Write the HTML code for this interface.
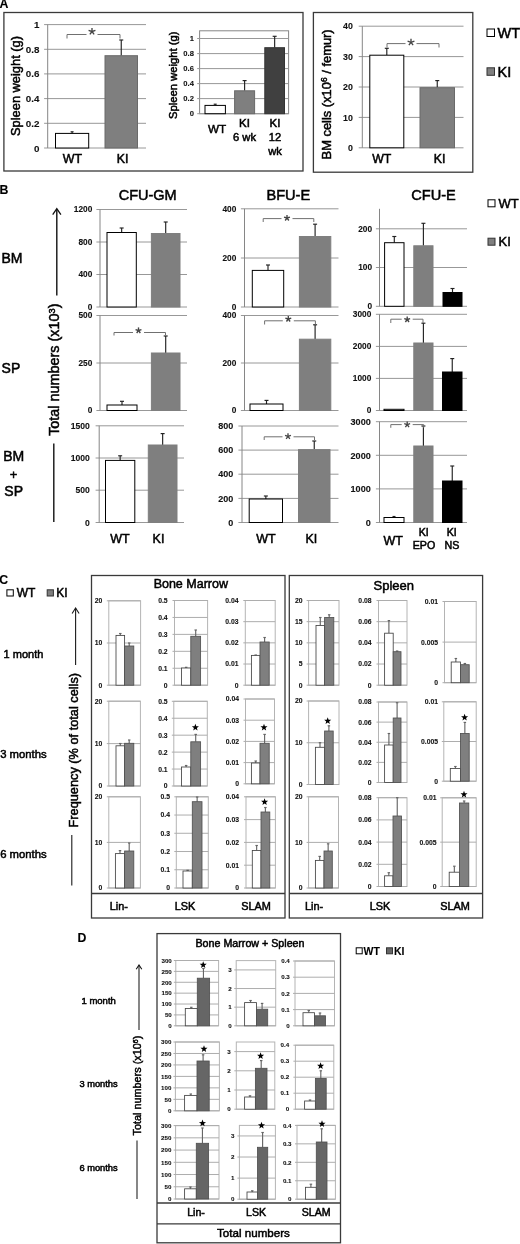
<!DOCTYPE html>
<html><head><meta charset="utf-8"><title>Figure</title>
<style>
html,body{margin:0;padding:0;background:#fff;}
body{width:520px;height:1244px;overflow:hidden;font-family:"Liberation Sans",sans-serif;}
svg{display:block;font-family:"Liberation Sans",sans-serif;filter:blur(0.55px);}
</style></head><body>
<svg width="520" height="1244" viewBox="0 0 520 1244">
<rect x="0" y="0" width="520" height="1244" fill="#fff"/>
<text x="-0.50" y="8.00" font-size="12.3" text-anchor="start" font-weight="bold" fill="#000" stroke="#000" stroke-width="0.1" >A</text>
<rect x="3.90" y="12.50" width="299.10" height="158.50" fill="none" stroke="#3a3a3a" stroke-width="1.3"/>
<rect x="313.40" y="12.50" width="159.40" height="159.70" fill="none" stroke="#3a3a3a" stroke-width="1.3"/>
<line x1="44.10" y1="24.60" x2="146.00" y2="24.60" stroke="#989898" stroke-width="1"/>
<line x1="44.10" y1="49.30" x2="146.00" y2="49.30" stroke="#989898" stroke-width="1"/>
<line x1="44.10" y1="73.90" x2="146.00" y2="73.90" stroke="#989898" stroke-width="1"/>
<line x1="44.10" y1="98.60" x2="146.00" y2="98.60" stroke="#989898" stroke-width="1"/>
<line x1="44.10" y1="123.30" x2="146.00" y2="123.30" stroke="#989898" stroke-width="1"/>
<line x1="44.10" y1="148.00" x2="146.00" y2="148.00" stroke="#989898" stroke-width="1"/>
<line x1="47.70" y1="24.60" x2="47.70" y2="148.00" stroke="#868686" stroke-width="1"/>
<text x="39.40" y="28.13" font-size="9.8" text-anchor="end" font-weight="bold" fill="#111" stroke="#111" stroke-width="0.1" >1</text>
<text x="39.40" y="52.83" font-size="9.8" text-anchor="end" font-weight="bold" fill="#111" stroke="#111" stroke-width="0.1" >0.8</text>
<text x="39.40" y="77.43" font-size="9.8" text-anchor="end" font-weight="bold" fill="#111" stroke="#111" stroke-width="0.1" >0.6</text>
<text x="39.40" y="102.13" font-size="9.8" text-anchor="end" font-weight="bold" fill="#111" stroke="#111" stroke-width="0.1" >0.4</text>
<text x="39.40" y="126.83" font-size="9.8" text-anchor="end" font-weight="bold" fill="#111" stroke="#111" stroke-width="0.1" >0.2</text>
<text x="39.40" y="151.53" font-size="9.8" text-anchor="end" font-weight="bold" fill="#111" stroke="#111" stroke-width="0.1" >0</text>
<line x1="72.10" y1="131.80" x2="72.10" y2="133.40" stroke="#222" stroke-width="1.15"/>
<line x1="70.60" y1="131.80" x2="73.60" y2="131.80" stroke="#222" stroke-width="1.15"/>
<rect x="55.50" y="133.40" width="33.20" height="14.60" fill="#fff" stroke="#000" stroke-width="1"/>
<line x1="121.25" y1="40.00" x2="121.25" y2="55.70" stroke="#222" stroke-width="1.15"/>
<line x1="119.25" y1="40.00" x2="123.25" y2="40.00" stroke="#222" stroke-width="1.15"/>
<rect x="105.00" y="55.70" width="32.50" height="92.30" fill="#7f7f7f" stroke="#6a6a6a" stroke-width="1"/>
<line x1="67.00" y1="34.50" x2="86.50" y2="34.50" stroke="#707070" stroke-width="1"/>
<line x1="97.50" y1="34.50" x2="120.00" y2="34.50" stroke="#707070" stroke-width="1"/>
<line x1="67.00" y1="34.50" x2="67.00" y2="38.50" stroke="#707070" stroke-width="1"/>
<line x1="120.00" y1="34.50" x2="120.00" y2="38.50" stroke="#707070" stroke-width="1"/>
<line x1="92.00" y1="31.50" x2="92.00" y2="27.90" stroke="#444" stroke-width="1.35"/>
<line x1="92.00" y1="31.50" x2="95.42" y2="30.39" stroke="#444" stroke-width="1.35"/>
<line x1="92.00" y1="31.50" x2="94.12" y2="34.41" stroke="#444" stroke-width="1.35"/>
<line x1="92.00" y1="31.50" x2="89.88" y2="34.41" stroke="#444" stroke-width="1.35"/>
<line x1="92.00" y1="31.50" x2="88.58" y2="30.39" stroke="#444" stroke-width="1.35"/>
<text transform="translate(20.00,86.00) rotate(-90)" font-size="12.85" text-anchor="middle" font-weight="normal" stroke="#000" stroke-width="0.5">Spleen weight (g)</text>
<text x="72.50" y="163.30" font-size="12.4" text-anchor="middle" font-weight="normal" fill="#000" stroke="#000" stroke-width="0.5" >WT</text>
<text x="122.50" y="163.30" font-size="12.4" text-anchor="middle" font-weight="normal" fill="#000" stroke="#000" stroke-width="0.5" >KI</text>
<rect x="199.60" y="30.80" width="89.00" height="82.90" fill="none" stroke="#868686" stroke-width="1"/>
<line x1="197.20" y1="38.50" x2="288.60" y2="38.50" stroke="#989898" stroke-width="1"/>
<line x1="197.20" y1="53.60" x2="288.60" y2="53.60" stroke="#989898" stroke-width="1"/>
<line x1="197.20" y1="68.60" x2="288.60" y2="68.60" stroke="#989898" stroke-width="1"/>
<line x1="197.20" y1="83.60" x2="288.60" y2="83.60" stroke="#989898" stroke-width="1"/>
<line x1="197.20" y1="98.60" x2="288.60" y2="98.60" stroke="#989898" stroke-width="1"/>
<line x1="197.20" y1="113.70" x2="288.60" y2="113.70" stroke="#989898" stroke-width="1"/>
<text x="193.90" y="41.24" font-size="7.6" text-anchor="end" font-weight="bold" fill="#111" stroke="#111" stroke-width="0.1" >1</text>
<text x="193.90" y="56.34" font-size="7.6" text-anchor="end" font-weight="bold" fill="#111" stroke="#111" stroke-width="0.1" >0.8</text>
<text x="193.90" y="71.34" font-size="7.6" text-anchor="end" font-weight="bold" fill="#111" stroke="#111" stroke-width="0.1" >0.6</text>
<text x="193.90" y="86.34" font-size="7.6" text-anchor="end" font-weight="bold" fill="#111" stroke="#111" stroke-width="0.1" >0.4</text>
<text x="193.90" y="101.34" font-size="7.6" text-anchor="end" font-weight="bold" fill="#111" stroke="#111" stroke-width="0.1" >0.2</text>
<text x="193.90" y="116.44" font-size="7.6" text-anchor="end" font-weight="bold" fill="#111" stroke="#111" stroke-width="0.1" >0</text>
<line x1="215.20" y1="104.20" x2="215.20" y2="105.40" stroke="#222" stroke-width="1.15"/>
<line x1="213.70" y1="104.20" x2="216.70" y2="104.20" stroke="#222" stroke-width="1.15"/>
<rect x="205.00" y="105.40" width="20.40" height="8.30" fill="#fff" stroke="#000" stroke-width="1"/>
<line x1="244.60" y1="80.60" x2="244.60" y2="90.80" stroke="#222" stroke-width="1.15"/>
<line x1="242.60" y1="80.60" x2="246.60" y2="80.60" stroke="#222" stroke-width="1.15"/>
<rect x="234.60" y="90.80" width="20.00" height="22.90" fill="#7f7f7f" stroke="#6a6a6a" stroke-width="1"/>
<line x1="274.65" y1="36.30" x2="274.65" y2="47.70" stroke="#222" stroke-width="1.15"/>
<line x1="272.65" y1="36.30" x2="276.65" y2="36.30" stroke="#222" stroke-width="1.15"/>
<rect x="264.80" y="47.70" width="19.70" height="66.00" fill="#404040" stroke="#333" stroke-width="1"/>
<text transform="translate(176.60,75.30) rotate(-90)" font-size="11.25" text-anchor="middle" font-weight="normal" stroke="#000" stroke-width="0.5">Spleen weight (g)</text>
<text x="217.00" y="133.00" font-size="11.7" text-anchor="middle" font-weight="normal" fill="#000" stroke="#000" stroke-width="0.5" >WT</text>
<text x="244.50" y="127.00" font-size="11.5" text-anchor="middle" font-weight="normal" fill="#000" stroke="#000" stroke-width="0.5" >KI</text>
<text x="244.50" y="141.40" font-size="11.2" text-anchor="middle" font-weight="normal" fill="#000" stroke="#000" stroke-width="0.5" >6 wk</text>
<text x="275.00" y="127.00" font-size="11.5" text-anchor="middle" font-weight="normal" fill="#000" stroke="#000" stroke-width="0.5" >KI</text>
<text x="275.00" y="141.40" font-size="11.2" text-anchor="middle" font-weight="normal" fill="#000" stroke="#000" stroke-width="0.5" >12</text>
<text x="275.00" y="155.20" font-size="11.2" text-anchor="middle" font-weight="normal" fill="#000" stroke="#000" stroke-width="0.5" >wk</text>
<line x1="358.70" y1="26.20" x2="463.50" y2="26.20" stroke="#989898" stroke-width="1"/>
<line x1="358.70" y1="56.60" x2="463.50" y2="56.60" stroke="#989898" stroke-width="1"/>
<line x1="358.70" y1="87.00" x2="463.50" y2="87.00" stroke="#989898" stroke-width="1"/>
<line x1="358.70" y1="117.40" x2="463.50" y2="117.40" stroke="#989898" stroke-width="1"/>
<line x1="358.70" y1="147.80" x2="463.50" y2="147.80" stroke="#989898" stroke-width="1"/>
<line x1="362.30" y1="26.20" x2="362.30" y2="147.80" stroke="#868686" stroke-width="1"/>
<text x="352.80" y="29.37" font-size="8.8" text-anchor="end" font-weight="bold" fill="#111" stroke="#111" stroke-width="0.1" >40</text>
<text x="352.80" y="59.77" font-size="8.8" text-anchor="end" font-weight="bold" fill="#111" stroke="#111" stroke-width="0.1" >30</text>
<text x="352.80" y="90.17" font-size="8.8" text-anchor="end" font-weight="bold" fill="#111" stroke="#111" stroke-width="0.1" >20</text>
<text x="352.80" y="120.57" font-size="8.8" text-anchor="end" font-weight="bold" fill="#111" stroke="#111" stroke-width="0.1" >10</text>
<text x="352.80" y="150.97" font-size="8.8" text-anchor="end" font-weight="bold" fill="#111" stroke="#111" stroke-width="0.1" >0</text>
<line x1="386.80" y1="48.30" x2="386.80" y2="55.20" stroke="#222" stroke-width="1.15"/>
<line x1="384.80" y1="48.30" x2="388.80" y2="48.30" stroke="#222" stroke-width="1.15"/>
<rect x="369.80" y="55.20" width="34.00" height="92.60" fill="#fff" stroke="#000" stroke-width="1"/>
<line x1="437.25" y1="80.60" x2="437.25" y2="87.70" stroke="#222" stroke-width="1.15"/>
<line x1="435.25" y1="80.60" x2="439.25" y2="80.60" stroke="#222" stroke-width="1.15"/>
<rect x="420.00" y="87.70" width="34.50" height="60.10" fill="#7f7f7f" stroke="#6a6a6a" stroke-width="1"/>
<line x1="387.00" y1="43.60" x2="405.50" y2="43.60" stroke="#707070" stroke-width="1"/>
<line x1="416.50" y1="43.60" x2="439.00" y2="43.60" stroke="#707070" stroke-width="1"/>
<line x1="387.00" y1="43.60" x2="387.00" y2="47.50" stroke="#707070" stroke-width="1"/>
<line x1="439.00" y1="43.60" x2="439.00" y2="47.50" stroke="#707070" stroke-width="1"/>
<line x1="411.00" y1="42.30" x2="411.00" y2="38.70" stroke="#444" stroke-width="1.35"/>
<line x1="411.00" y1="42.30" x2="414.42" y2="41.19" stroke="#444" stroke-width="1.35"/>
<line x1="411.00" y1="42.30" x2="413.12" y2="45.21" stroke="#444" stroke-width="1.35"/>
<line x1="411.00" y1="42.30" x2="408.88" y2="45.21" stroke="#444" stroke-width="1.35"/>
<line x1="411.00" y1="42.30" x2="407.58" y2="41.19" stroke="#444" stroke-width="1.35"/>
<text transform="translate(331.2,94.4) rotate(-90)" font-size="12.9" text-anchor="middle" stroke="#000" stroke-width="0.5">BM cells (x10<tspan font-size="8.5" dy="-4.3">6</tspan><tspan dy="4.3"> / femur)</tspan></text>
<text x="381.70" y="163.00" font-size="12.3" text-anchor="middle" font-weight="normal" fill="#000" stroke="#000" stroke-width="0.5" >WT</text>
<text x="439.50" y="163.00" font-size="12.3" text-anchor="middle" font-weight="normal" fill="#000" stroke="#000" stroke-width="0.5" >KI</text>
<rect x="487.00" y="29.00" width="7.50" height="7.50" fill="#fff" stroke="#000" stroke-width="1"/>
<text x="497.50" y="38.00" font-size="14.5" text-anchor="start" font-weight="normal" fill="#000" stroke="#000" stroke-width="0.5" >WT</text>
<rect x="487.00" y="67.80" width="7.50" height="7.50" fill="#7f7f7f" stroke="#333" stroke-width="1"/>
<text x="497.50" y="76.50" font-size="14.5" text-anchor="start" font-weight="normal" fill="#000" stroke="#000" stroke-width="0.5" >KI</text>
<text x="-0.50" y="193.70" font-size="12.3" text-anchor="start" font-weight="bold" fill="#000" stroke="#000" stroke-width="0.1" >B</text>
<text x="1.40" y="263.20" font-size="14" text-anchor="start" font-weight="normal" fill="#000" stroke="#000" stroke-width="0.5" >BM</text>
<text x="1.60" y="373.00" font-size="14" text-anchor="start" font-weight="normal" fill="#000" stroke="#000" stroke-width="0.5" >SP</text>
<text x="13.70" y="461.20" font-size="14" text-anchor="middle" font-weight="normal" fill="#000" stroke="#000" stroke-width="0.5" >BM</text>
<text x="13.60" y="478.60" font-size="13" text-anchor="middle" font-weight="normal" fill="#000" stroke="#000" stroke-width="0.5" >+</text>
<text x="13.70" y="496.20" font-size="14" text-anchor="middle" font-weight="normal" fill="#000" stroke="#000" stroke-width="0.5" >SP</text>
<line x1="56.80" y1="209.00" x2="56.80" y2="295.40" stroke="#111" stroke-width="1.4"/>
<path d="M52.7,214.6 L56.8,208.6 L60.9,214.6" fill="none" stroke="#111" stroke-width="1.3"/>
<text transform="translate(59.3,369.7) rotate(-90)" font-size="14.4" text-anchor="middle" stroke="#000" stroke-width="0.5">Total numbers (x10<tspan font-size="9.3" dy="-4.5">3</tspan><tspan dy="4.5">)</tspan></text>
<line x1="53.80" y1="443.50" x2="53.80" y2="522.00" stroke="#111" stroke-width="1.4"/>
<text x="147.70" y="200.20" font-size="14.5" text-anchor="middle" font-weight="normal" fill="#000" stroke="#000" stroke-width="0.5" >CFU-GM</text>
<text x="288.30" y="200.20" font-size="14.6" text-anchor="middle" font-weight="normal" fill="#000" stroke="#000" stroke-width="0.5" >BFU-E</text>
<text x="433.50" y="200.20" font-size="14.6" text-anchor="middle" font-weight="normal" fill="#000" stroke="#000" stroke-width="0.5" >CFU-E</text>
<line x1="96.40" y1="209.50" x2="187.00" y2="209.50" stroke="#989898" stroke-width="1"/>
<line x1="96.40" y1="242.00" x2="187.00" y2="242.00" stroke="#989898" stroke-width="1"/>
<line x1="96.40" y1="274.50" x2="187.00" y2="274.50" stroke="#989898" stroke-width="1"/>
<line x1="96.40" y1="307.00" x2="187.00" y2="307.00" stroke="#989898" stroke-width="1"/>
<line x1="100.00" y1="209.50" x2="100.00" y2="307.00" stroke="#868686" stroke-width="1"/>
<text x="92.30" y="212.49" font-size="8.3" text-anchor="end" font-weight="bold" fill="#111" stroke="#111" stroke-width="0.1" >1200</text>
<text x="92.30" y="244.99" font-size="8.3" text-anchor="end" font-weight="bold" fill="#111" stroke="#111" stroke-width="0.1" >800</text>
<text x="92.30" y="277.49" font-size="8.3" text-anchor="end" font-weight="bold" fill="#111" stroke="#111" stroke-width="0.1" >400</text>
<text x="92.30" y="309.99" font-size="8.3" text-anchor="end" font-weight="bold" fill="#111" stroke="#111" stroke-width="0.1" >0</text>
<line x1="121.65" y1="228.00" x2="121.65" y2="232.50" stroke="#222" stroke-width="1.15"/>
<line x1="119.65" y1="228.00" x2="123.65" y2="228.00" stroke="#222" stroke-width="1.15"/>
<rect x="107.00" y="232.50" width="29.30" height="74.50" fill="#fff" stroke="#000" stroke-width="1"/>
<line x1="165.70" y1="222.00" x2="165.70" y2="233.50" stroke="#222" stroke-width="1.15"/>
<line x1="163.70" y1="222.00" x2="167.70" y2="222.00" stroke="#222" stroke-width="1.15"/>
<rect x="151.40" y="233.50" width="28.60" height="73.50" fill="#7f7f7f" stroke="#7f7f7f" stroke-width="1"/>
<line x1="96.40" y1="315.50" x2="187.00" y2="315.50" stroke="#989898" stroke-width="1"/>
<line x1="96.40" y1="363.00" x2="187.00" y2="363.00" stroke="#989898" stroke-width="1"/>
<line x1="96.40" y1="410.50" x2="187.00" y2="410.50" stroke="#989898" stroke-width="1"/>
<line x1="100.00" y1="315.50" x2="100.00" y2="410.50" stroke="#868686" stroke-width="1"/>
<text x="92.30" y="318.49" font-size="8.3" text-anchor="end" font-weight="bold" fill="#111" stroke="#111" stroke-width="0.1" >500</text>
<text x="92.30" y="365.99" font-size="8.3" text-anchor="end" font-weight="bold" fill="#111" stroke="#111" stroke-width="0.1" >250</text>
<text x="92.30" y="413.49" font-size="8.3" text-anchor="end" font-weight="bold" fill="#111" stroke="#111" stroke-width="0.1" >0</text>
<line x1="122.00" y1="401.30" x2="122.00" y2="405.00" stroke="#222" stroke-width="1.15"/>
<line x1="120.00" y1="401.30" x2="124.00" y2="401.30" stroke="#222" stroke-width="1.15"/>
<rect x="107.00" y="405.00" width="30.00" height="5.50" fill="#fff" stroke="#000" stroke-width="1"/>
<line x1="165.70" y1="336.00" x2="165.70" y2="353.00" stroke="#222" stroke-width="1.15"/>
<line x1="163.70" y1="336.00" x2="167.70" y2="336.00" stroke="#222" stroke-width="1.15"/>
<rect x="151.40" y="353.00" width="28.60" height="57.50" fill="#7f7f7f" stroke="#7f7f7f" stroke-width="1"/>
<line x1="114.00" y1="332.50" x2="133.00" y2="332.50" stroke="#707070" stroke-width="1"/>
<line x1="144.00" y1="332.50" x2="165.50" y2="332.50" stroke="#707070" stroke-width="1"/>
<line x1="114.00" y1="332.50" x2="114.00" y2="335.50" stroke="#707070" stroke-width="1"/>
<line x1="165.50" y1="332.50" x2="165.50" y2="335.50" stroke="#707070" stroke-width="1"/>
<line x1="138.50" y1="330.50" x2="138.50" y2="327.40" stroke="#444" stroke-width="1.35"/>
<line x1="138.50" y1="330.50" x2="141.45" y2="329.54" stroke="#444" stroke-width="1.35"/>
<line x1="138.50" y1="330.50" x2="140.32" y2="333.01" stroke="#444" stroke-width="1.35"/>
<line x1="138.50" y1="330.50" x2="136.68" y2="333.01" stroke="#444" stroke-width="1.35"/>
<line x1="138.50" y1="330.50" x2="135.55" y2="329.54" stroke="#444" stroke-width="1.35"/>
<line x1="95.60" y1="425.80" x2="184.00" y2="425.80" stroke="#989898" stroke-width="1"/>
<line x1="95.60" y1="458.00" x2="184.00" y2="458.00" stroke="#989898" stroke-width="1"/>
<line x1="95.60" y1="490.20" x2="184.00" y2="490.20" stroke="#989898" stroke-width="1"/>
<line x1="95.60" y1="522.50" x2="184.00" y2="522.50" stroke="#989898" stroke-width="1"/>
<line x1="99.20" y1="425.80" x2="99.20" y2="522.50" stroke="#868686" stroke-width="1"/>
<text x="89.80" y="428.90" font-size="8.6" text-anchor="end" font-weight="bold" fill="#111" stroke="#111" stroke-width="0.1" >1500</text>
<text x="89.80" y="461.10" font-size="8.6" text-anchor="end" font-weight="bold" fill="#111" stroke="#111" stroke-width="0.1" >1000</text>
<text x="89.80" y="493.30" font-size="8.6" text-anchor="end" font-weight="bold" fill="#111" stroke="#111" stroke-width="0.1" >500</text>
<text x="89.80" y="525.60" font-size="8.6" text-anchor="end" font-weight="bold" fill="#111" stroke="#111" stroke-width="0.1" >0</text>
<line x1="120.15" y1="455.80" x2="120.15" y2="460.40" stroke="#222" stroke-width="1.15"/>
<line x1="118.15" y1="455.80" x2="122.15" y2="455.80" stroke="#222" stroke-width="1.15"/>
<rect x="105.50" y="460.40" width="29.30" height="62.10" fill="#fff" stroke="#000" stroke-width="1"/>
<line x1="162.65" y1="433.60" x2="162.65" y2="445.00" stroke="#222" stroke-width="1.15"/>
<line x1="160.65" y1="433.60" x2="164.65" y2="433.60" stroke="#222" stroke-width="1.15"/>
<rect x="148.30" y="445.00" width="28.70" height="77.50" fill="#7f7f7f" stroke="#7f7f7f" stroke-width="1"/>
<text x="120.00" y="542.50" font-size="12.5" text-anchor="middle" font-weight="normal" fill="#000" stroke="#000" stroke-width="0.5" >WT</text>
<text x="158.50" y="542.50" font-size="12.5" text-anchor="middle" font-weight="normal" fill="#000" stroke="#000" stroke-width="0.5" >KI</text>
<line x1="240.90" y1="208.80" x2="338.50" y2="208.80" stroke="#989898" stroke-width="1"/>
<line x1="240.90" y1="258.00" x2="338.50" y2="258.00" stroke="#989898" stroke-width="1"/>
<line x1="240.90" y1="307.00" x2="338.50" y2="307.00" stroke="#989898" stroke-width="1"/>
<line x1="244.50" y1="208.80" x2="244.50" y2="307.00" stroke="#868686" stroke-width="1"/>
<text x="236.30" y="211.79" font-size="8.3" text-anchor="end" font-weight="bold" fill="#111" stroke="#111" stroke-width="0.1" >400</text>
<text x="236.30" y="260.99" font-size="8.3" text-anchor="end" font-weight="bold" fill="#111" stroke="#111" stroke-width="0.1" >200</text>
<text x="236.30" y="309.99" font-size="8.3" text-anchor="end" font-weight="bold" fill="#111" stroke="#111" stroke-width="0.1" >0</text>
<line x1="268.00" y1="265.00" x2="268.00" y2="270.40" stroke="#222" stroke-width="1.15"/>
<line x1="266.00" y1="265.00" x2="270.00" y2="265.00" stroke="#222" stroke-width="1.15"/>
<rect x="252.30" y="270.40" width="31.40" height="36.60" fill="#fff" stroke="#000" stroke-width="1"/>
<line x1="315.10" y1="224.20" x2="315.10" y2="236.50" stroke="#222" stroke-width="1.15"/>
<line x1="313.10" y1="224.20" x2="317.10" y2="224.20" stroke="#222" stroke-width="1.15"/>
<rect x="299.40" y="236.50" width="31.40" height="70.50" fill="#7f7f7f" stroke="#7f7f7f" stroke-width="1"/>
<line x1="263.20" y1="218.60" x2="281.50" y2="218.60" stroke="#707070" stroke-width="1"/>
<line x1="292.50" y1="218.60" x2="313.80" y2="218.60" stroke="#707070" stroke-width="1"/>
<line x1="263.20" y1="218.60" x2="263.20" y2="222.00" stroke="#707070" stroke-width="1"/>
<line x1="313.80" y1="218.60" x2="313.80" y2="222.00" stroke="#707070" stroke-width="1"/>
<line x1="287.00" y1="218.00" x2="287.00" y2="214.90" stroke="#444" stroke-width="1.35"/>
<line x1="287.00" y1="218.00" x2="289.95" y2="217.04" stroke="#444" stroke-width="1.35"/>
<line x1="287.00" y1="218.00" x2="288.82" y2="220.51" stroke="#444" stroke-width="1.35"/>
<line x1="287.00" y1="218.00" x2="285.18" y2="220.51" stroke="#444" stroke-width="1.35"/>
<line x1="287.00" y1="218.00" x2="284.05" y2="217.04" stroke="#444" stroke-width="1.35"/>
<line x1="240.90" y1="315.50" x2="338.50" y2="315.50" stroke="#989898" stroke-width="1"/>
<line x1="240.90" y1="363.00" x2="338.50" y2="363.00" stroke="#989898" stroke-width="1"/>
<line x1="240.90" y1="410.50" x2="338.50" y2="410.50" stroke="#989898" stroke-width="1"/>
<line x1="244.50" y1="315.50" x2="244.50" y2="410.50" stroke="#868686" stroke-width="1"/>
<text x="236.30" y="318.49" font-size="8.3" text-anchor="end" font-weight="bold" fill="#111" stroke="#111" stroke-width="0.1" >400</text>
<text x="236.30" y="365.99" font-size="8.3" text-anchor="end" font-weight="bold" fill="#111" stroke="#111" stroke-width="0.1" >200</text>
<text x="236.30" y="413.49" font-size="8.3" text-anchor="end" font-weight="bold" fill="#111" stroke="#111" stroke-width="0.1" >0</text>
<line x1="266.50" y1="400.40" x2="266.50" y2="404.00" stroke="#222" stroke-width="1.15"/>
<line x1="264.50" y1="400.40" x2="268.50" y2="400.40" stroke="#222" stroke-width="1.15"/>
<rect x="250.00" y="404.00" width="33.00" height="6.50" fill="#fff" stroke="#000" stroke-width="1"/>
<line x1="315.10" y1="324.80" x2="315.10" y2="339.20" stroke="#222" stroke-width="1.15"/>
<line x1="313.10" y1="324.80" x2="317.10" y2="324.80" stroke="#222" stroke-width="1.15"/>
<rect x="299.40" y="339.20" width="31.40" height="71.30" fill="#7f7f7f" stroke="#7f7f7f" stroke-width="1"/>
<line x1="264.60" y1="320.80" x2="282.80" y2="320.80" stroke="#707070" stroke-width="1"/>
<line x1="293.80" y1="320.80" x2="315.40" y2="320.80" stroke="#707070" stroke-width="1"/>
<line x1="264.60" y1="320.80" x2="264.60" y2="324.50" stroke="#707070" stroke-width="1"/>
<line x1="315.40" y1="320.80" x2="315.40" y2="324.50" stroke="#707070" stroke-width="1"/>
<line x1="288.30" y1="319.00" x2="288.30" y2="315.90" stroke="#444" stroke-width="1.35"/>
<line x1="288.30" y1="319.00" x2="291.25" y2="318.04" stroke="#444" stroke-width="1.35"/>
<line x1="288.30" y1="319.00" x2="290.12" y2="321.51" stroke="#444" stroke-width="1.35"/>
<line x1="288.30" y1="319.00" x2="286.48" y2="321.51" stroke="#444" stroke-width="1.35"/>
<line x1="288.30" y1="319.00" x2="285.35" y2="318.04" stroke="#444" stroke-width="1.35"/>
<line x1="238.40" y1="426.00" x2="338.50" y2="426.00" stroke="#989898" stroke-width="1"/>
<line x1="238.40" y1="450.10" x2="338.50" y2="450.10" stroke="#989898" stroke-width="1"/>
<line x1="238.40" y1="474.20" x2="338.50" y2="474.20" stroke="#989898" stroke-width="1"/>
<line x1="238.40" y1="498.40" x2="338.50" y2="498.40" stroke="#989898" stroke-width="1"/>
<line x1="238.40" y1="522.50" x2="338.50" y2="522.50" stroke="#989898" stroke-width="1"/>
<line x1="242.00" y1="426.00" x2="242.00" y2="522.50" stroke="#868686" stroke-width="1"/>
<text x="233.20" y="429.24" font-size="9" text-anchor="end" font-weight="bold" fill="#111" stroke="#111" stroke-width="0.1" >800</text>
<text x="233.20" y="453.34" font-size="9" text-anchor="end" font-weight="bold" fill="#111" stroke="#111" stroke-width="0.1" >600</text>
<text x="233.20" y="477.44" font-size="9" text-anchor="end" font-weight="bold" fill="#111" stroke="#111" stroke-width="0.1" >400</text>
<text x="233.20" y="501.64" font-size="9" text-anchor="end" font-weight="bold" fill="#111" stroke="#111" stroke-width="0.1" >200</text>
<text x="233.20" y="525.74" font-size="9" text-anchor="end" font-weight="bold" fill="#111" stroke="#111" stroke-width="0.1" >0</text>
<line x1="265.85" y1="496.00" x2="265.85" y2="499.00" stroke="#222" stroke-width="1.15"/>
<line x1="263.85" y1="496.00" x2="267.85" y2="496.00" stroke="#222" stroke-width="1.15"/>
<rect x="249.20" y="499.00" width="33.30" height="23.50" fill="#fff" stroke="#000" stroke-width="1"/>
<line x1="314.25" y1="441.00" x2="314.25" y2="449.60" stroke="#222" stroke-width="1.15"/>
<line x1="312.25" y1="441.00" x2="316.25" y2="441.00" stroke="#222" stroke-width="1.15"/>
<rect x="298.50" y="449.60" width="31.50" height="72.90" fill="#7f7f7f" stroke="#7f7f7f" stroke-width="1"/>
<line x1="264.20" y1="436.80" x2="282.50" y2="436.80" stroke="#707070" stroke-width="1"/>
<line x1="293.50" y1="436.80" x2="314.50" y2="436.80" stroke="#707070" stroke-width="1"/>
<line x1="264.20" y1="436.80" x2="264.20" y2="440.00" stroke="#707070" stroke-width="1"/>
<line x1="314.50" y1="436.80" x2="314.50" y2="440.00" stroke="#707070" stroke-width="1"/>
<line x1="288.00" y1="436.30" x2="288.00" y2="433.20" stroke="#444" stroke-width="1.35"/>
<line x1="288.00" y1="436.30" x2="290.95" y2="435.34" stroke="#444" stroke-width="1.35"/>
<line x1="288.00" y1="436.30" x2="289.82" y2="438.81" stroke="#444" stroke-width="1.35"/>
<line x1="288.00" y1="436.30" x2="286.18" y2="438.81" stroke="#444" stroke-width="1.35"/>
<line x1="288.00" y1="436.30" x2="285.05" y2="435.34" stroke="#444" stroke-width="1.35"/>
<text x="266.00" y="542.50" font-size="12.5" text-anchor="middle" font-weight="normal" fill="#000" stroke="#000" stroke-width="0.5" >WT</text>
<text x="311.40" y="542.50" font-size="12.5" text-anchor="middle" font-weight="normal" fill="#000" stroke="#000" stroke-width="0.5" >KI</text>
<line x1="375.90" y1="228.80" x2="467.00" y2="228.80" stroke="#989898" stroke-width="1"/>
<line x1="375.90" y1="267.50" x2="467.00" y2="267.50" stroke="#989898" stroke-width="1"/>
<line x1="375.90" y1="306.30" x2="467.00" y2="306.30" stroke="#989898" stroke-width="1"/>
<line x1="379.50" y1="208.80" x2="379.50" y2="306.30" stroke="#868686" stroke-width="1"/>
<text x="372.00" y="231.79" font-size="8.3" text-anchor="end" font-weight="bold" fill="#111" stroke="#111" stroke-width="0.1" >200</text>
<text x="372.00" y="270.49" font-size="8.3" text-anchor="end" font-weight="bold" fill="#111" stroke="#111" stroke-width="0.1" >100</text>
<text x="372.00" y="309.29" font-size="8.3" text-anchor="end" font-weight="bold" fill="#111" stroke="#111" stroke-width="0.1" >0</text>
<line x1="394.30" y1="236.50" x2="394.30" y2="242.70" stroke="#222" stroke-width="1.15"/>
<line x1="392.30" y1="236.50" x2="396.30" y2="236.50" stroke="#222" stroke-width="1.15"/>
<rect x="384.60" y="242.70" width="19.40" height="63.60" fill="#fff" stroke="#000" stroke-width="1"/>
<line x1="423.40" y1="223.30" x2="423.40" y2="245.80" stroke="#222" stroke-width="1.15"/>
<line x1="421.40" y1="223.30" x2="425.40" y2="223.30" stroke="#222" stroke-width="1.15"/>
<rect x="413.80" y="245.80" width="19.20" height="60.50" fill="#7f7f7f" stroke="#7f7f7f" stroke-width="1"/>
<line x1="452.50" y1="288.50" x2="452.50" y2="292.50" stroke="#222" stroke-width="1.15"/>
<line x1="450.50" y1="288.50" x2="454.50" y2="288.50" stroke="#222" stroke-width="1.15"/>
<rect x="443.00" y="292.50" width="19.00" height="13.80" fill="#000" stroke="#000" stroke-width="1"/>
<line x1="375.90" y1="314.30" x2="467.00" y2="314.30" stroke="#989898" stroke-width="1"/>
<line x1="375.90" y1="346.40" x2="467.00" y2="346.40" stroke="#989898" stroke-width="1"/>
<line x1="375.90" y1="378.40" x2="467.00" y2="378.40" stroke="#989898" stroke-width="1"/>
<line x1="375.90" y1="410.50" x2="467.00" y2="410.50" stroke="#989898" stroke-width="1"/>
<line x1="379.50" y1="314.30" x2="379.50" y2="410.50" stroke="#868686" stroke-width="1"/>
<text x="371.30" y="317.29" font-size="8.3" text-anchor="end" font-weight="bold" fill="#111" stroke="#111" stroke-width="0.1" >3000</text>
<text x="371.30" y="349.39" font-size="8.3" text-anchor="end" font-weight="bold" fill="#111" stroke="#111" stroke-width="0.1" >2000</text>
<text x="371.30" y="381.39" font-size="8.3" text-anchor="end" font-weight="bold" fill="#111" stroke="#111" stroke-width="0.1" >1000</text>
<text x="371.30" y="413.49" font-size="8.3" text-anchor="end" font-weight="bold" fill="#111" stroke="#111" stroke-width="0.1" >0</text>
<rect x="384.00" y="409.30" width="20.00" height="1.20" fill="#fff" stroke="#000" stroke-width="1"/>
<line x1="423.40" y1="323.20" x2="423.40" y2="343.00" stroke="#222" stroke-width="1.15"/>
<line x1="421.40" y1="323.20" x2="425.40" y2="323.20" stroke="#222" stroke-width="1.15"/>
<rect x="413.80" y="343.00" width="19.20" height="67.50" fill="#7f7f7f" stroke="#7f7f7f" stroke-width="1"/>
<line x1="452.25" y1="358.60" x2="452.25" y2="372.00" stroke="#222" stroke-width="1.15"/>
<line x1="450.25" y1="358.60" x2="454.25" y2="358.60" stroke="#222" stroke-width="1.15"/>
<rect x="442.50" y="372.00" width="19.50" height="38.50" fill="#000" stroke="#000" stroke-width="1"/>
<line x1="390.80" y1="319.20" x2="401.70" y2="319.20" stroke="#707070" stroke-width="1"/>
<line x1="412.70" y1="319.20" x2="423.00" y2="319.20" stroke="#707070" stroke-width="1"/>
<line x1="390.80" y1="319.20" x2="390.80" y2="323.00" stroke="#707070" stroke-width="1"/>
<line x1="423.00" y1="319.20" x2="423.00" y2="323.00" stroke="#707070" stroke-width="1"/>
<line x1="407.20" y1="319.50" x2="407.20" y2="316.40" stroke="#444" stroke-width="1.35"/>
<line x1="407.20" y1="319.50" x2="410.15" y2="318.54" stroke="#444" stroke-width="1.35"/>
<line x1="407.20" y1="319.50" x2="409.02" y2="322.01" stroke="#444" stroke-width="1.35"/>
<line x1="407.20" y1="319.50" x2="405.38" y2="322.01" stroke="#444" stroke-width="1.35"/>
<line x1="407.20" y1="319.50" x2="404.25" y2="318.54" stroke="#444" stroke-width="1.35"/>
<line x1="375.90" y1="421.70" x2="467.00" y2="421.70" stroke="#989898" stroke-width="1"/>
<line x1="375.90" y1="455.30" x2="467.00" y2="455.30" stroke="#989898" stroke-width="1"/>
<line x1="375.90" y1="488.90" x2="467.00" y2="488.90" stroke="#989898" stroke-width="1"/>
<line x1="375.90" y1="522.50" x2="467.00" y2="522.50" stroke="#989898" stroke-width="1"/>
<line x1="379.50" y1="421.70" x2="379.50" y2="522.50" stroke="#868686" stroke-width="1"/>
<text x="370.80" y="424.98" font-size="9.1" text-anchor="end" font-weight="bold" fill="#111" stroke="#111" stroke-width="0.1" >3000</text>
<text x="370.80" y="458.58" font-size="9.1" text-anchor="end" font-weight="bold" fill="#111" stroke="#111" stroke-width="0.1" >2000</text>
<text x="370.80" y="492.18" font-size="9.1" text-anchor="end" font-weight="bold" fill="#111" stroke="#111" stroke-width="0.1" >1000</text>
<text x="370.80" y="525.78" font-size="9.1" text-anchor="end" font-weight="bold" fill="#111" stroke="#111" stroke-width="0.1" >0</text>
<line x1="394.00" y1="516.50" x2="394.00" y2="517.50" stroke="#222" stroke-width="1.15"/>
<line x1="392.50" y1="516.50" x2="395.50" y2="516.50" stroke="#222" stroke-width="1.15"/>
<rect x="384.00" y="517.50" width="20.00" height="5.00" fill="#fff" stroke="#000" stroke-width="1"/>
<line x1="423.40" y1="426.00" x2="423.40" y2="446.00" stroke="#222" stroke-width="1.15"/>
<line x1="421.40" y1="426.00" x2="425.40" y2="426.00" stroke="#222" stroke-width="1.15"/>
<rect x="413.80" y="446.00" width="19.20" height="76.50" fill="#7f7f7f" stroke="#7f7f7f" stroke-width="1"/>
<line x1="452.25" y1="466.00" x2="452.25" y2="481.00" stroke="#222" stroke-width="1.15"/>
<line x1="450.25" y1="466.00" x2="454.25" y2="466.00" stroke="#222" stroke-width="1.15"/>
<rect x="442.50" y="481.00" width="19.50" height="41.50" fill="#000" stroke="#000" stroke-width="1"/>
<line x1="390.80" y1="424.60" x2="401.70" y2="424.60" stroke="#707070" stroke-width="1"/>
<line x1="412.70" y1="424.60" x2="423.70" y2="424.60" stroke="#707070" stroke-width="1"/>
<line x1="390.80" y1="424.60" x2="390.80" y2="427.80" stroke="#707070" stroke-width="1"/>
<line x1="423.70" y1="424.60" x2="423.70" y2="427.80" stroke="#707070" stroke-width="1"/>
<line x1="407.20" y1="424.60" x2="407.20" y2="421.50" stroke="#444" stroke-width="1.35"/>
<line x1="407.20" y1="424.60" x2="410.15" y2="423.64" stroke="#444" stroke-width="1.35"/>
<line x1="407.20" y1="424.60" x2="409.02" y2="427.11" stroke="#444" stroke-width="1.35"/>
<line x1="407.20" y1="424.60" x2="405.38" y2="427.11" stroke="#444" stroke-width="1.35"/>
<line x1="407.20" y1="424.60" x2="404.25" y2="423.64" stroke="#444" stroke-width="1.35"/>
<text x="393.20" y="544.60" font-size="12.5" text-anchor="middle" font-weight="normal" fill="#000" stroke="#000" stroke-width="0.5" >WT</text>
<text x="423.70" y="535.60" font-size="10.7" text-anchor="middle" font-weight="normal" fill="#000" stroke="#000" stroke-width="0.5" >KI</text>
<text x="424.00" y="548.80" font-size="10.7" text-anchor="middle" font-weight="normal" fill="#000" stroke="#000" stroke-width="0.5" >EPO</text>
<text x="451.80" y="535.60" font-size="10.7" text-anchor="middle" font-weight="normal" fill="#000" stroke="#000" stroke-width="0.5" >KI</text>
<text x="452.00" y="548.80" font-size="10.7" text-anchor="middle" font-weight="normal" fill="#000" stroke="#000" stroke-width="0.5" >NS</text>
<rect x="488.00" y="199.80" width="7.00" height="7.00" fill="#fff" stroke="#000" stroke-width="1"/>
<text x="498.50" y="207.50" font-size="13" text-anchor="start" font-weight="normal" fill="#000" stroke="#000" stroke-width="0.5" >WT</text>
<rect x="488.00" y="238.20" width="7.00" height="7.00" fill="#7f7f7f" stroke="#333" stroke-width="1"/>
<text x="498.50" y="246.00" font-size="13" text-anchor="start" font-weight="normal" fill="#000" stroke="#000" stroke-width="0.5" >KI</text>
<text x="-0.80" y="584.20" font-size="12.3" text-anchor="start" font-weight="bold" fill="#000" stroke="#000" stroke-width="0.1" >C</text>
<rect x="6.90" y="589.80" width="6.40" height="6.20" fill="#fff" stroke="#000" stroke-width="1"/>
<text x="16.70" y="597.00" font-size="12" text-anchor="start" font-weight="normal" fill="#000" stroke="#000" stroke-width="0.5" >WT</text>
<rect x="47.20" y="589.80" width="6.20" height="6.20" fill="#7f7f7f" stroke="#333" stroke-width="1"/>
<text x="56.30" y="597.00" font-size="12" text-anchor="start" font-weight="normal" fill="#000" stroke="#000" stroke-width="0.5" >KI</text>
<text x="3.60" y="657.80" font-size="11" text-anchor="start" font-weight="normal" fill="#000" stroke="#000" stroke-width="0.5" >1 month</text>
<text x="0.20" y="757.90" font-size="11.3" text-anchor="start" font-weight="normal" fill="#000" stroke="#000" stroke-width="0.5" >3 months</text>
<text x="0.20" y="857.60" font-size="11.3" text-anchor="start" font-weight="normal" fill="#000" stroke="#000" stroke-width="0.5" >6 months</text>
<line x1="75.60" y1="608.30" x2="75.60" y2="665.00" stroke="#1a1a1a" stroke-width="1.1"/>
<path d="M72.1,613.5 L75.6,608 L79.1,613.5" fill="none" stroke="#1a1a1a" stroke-width="1.1"/>
<text transform="translate(77.60,750.20) rotate(-90)" font-size="12.75" text-anchor="middle" font-weight="normal" stroke="#000" stroke-width="0.5">Frequency (% of total cells)</text>
<line x1="71.80" y1="835.00" x2="71.80" y2="885.40" stroke="#1a1a1a" stroke-width="1.1"/>
<rect x="91.50" y="575.50" width="193.50" height="342.50" fill="none" stroke="#3a3a3a" stroke-width="1.3"/>
<line x1="91.50" y1="893.50" x2="285.00" y2="893.50" stroke="#3a3a3a" stroke-width="1.3"/>
<rect x="289.30" y="575.50" width="193.30" height="342.50" fill="none" stroke="#3a3a3a" stroke-width="1.3"/>
<line x1="289.30" y1="893.50" x2="482.60" y2="893.50" stroke="#3a3a3a" stroke-width="1.3"/>
<text x="190.80" y="588.30" font-size="12.5" text-anchor="middle" font-weight="normal" fill="#000" stroke="#000" stroke-width="0.5" >Bone Marrow</text>
<text x="393.80" y="589.50" font-size="13" text-anchor="middle" font-weight="normal" fill="#000" stroke="#000" stroke-width="0.5" >Spleen</text>
<text x="118.80" y="909.60" font-size="10.9" text-anchor="middle" font-weight="normal" fill="#000" stroke="#000" stroke-width="0.5" >Lin-</text>
<text x="185.00" y="909.60" font-size="10.9" text-anchor="middle" font-weight="normal" fill="#000" stroke="#000" stroke-width="0.5" >LSK</text>
<text x="256.00" y="909.60" font-size="10.9" text-anchor="middle" font-weight="normal" fill="#000" stroke="#000" stroke-width="0.5" >SLAM</text>
<text x="314.00" y="909.60" font-size="10.9" text-anchor="middle" font-weight="normal" fill="#000" stroke="#000" stroke-width="0.5" >Lin-</text>
<text x="380.00" y="909.60" font-size="10.9" text-anchor="middle" font-weight="normal" fill="#000" stroke="#000" stroke-width="0.5" >LSK</text>
<text x="455.00" y="909.60" font-size="10.9" text-anchor="middle" font-weight="normal" fill="#000" stroke="#000" stroke-width="0.5" >SLAM</text>
<rect x="108.80" y="600.80" width="31.80" height="84.40" fill="#fff" stroke="#b4b4b4" stroke-width="1"/>
<line x1="106.80" y1="600.80" x2="140.60" y2="600.80" stroke="#adadad" stroke-width="1"/>
<line x1="106.80" y1="643.00" x2="140.60" y2="643.00" stroke="#adadad" stroke-width="1"/>
<line x1="106.80" y1="685.20" x2="140.60" y2="685.20" stroke="#adadad" stroke-width="1"/>
<text x="102.40" y="603.25" font-size="6.8" text-anchor="end" font-weight="bold" fill="#111" stroke="#111" stroke-width="0.1" >20</text>
<text x="102.40" y="645.45" font-size="6.8" text-anchor="end" font-weight="bold" fill="#111" stroke="#111" stroke-width="0.1" >10</text>
<text x="102.40" y="687.65" font-size="6.8" text-anchor="end" font-weight="bold" fill="#111" stroke="#111" stroke-width="0.1" >0</text>
<line x1="120.30" y1="633.50" x2="120.30" y2="635.40" stroke="#666" stroke-width="1.15"/>
<line x1="119.05" y1="633.50" x2="121.55" y2="633.50" stroke="#666" stroke-width="1.15"/>
<rect x="116.00" y="635.40" width="8.60" height="49.80" fill="#fff" stroke="#444" stroke-width="0.85"/>
<line x1="129.20" y1="643.00" x2="129.20" y2="646.00" stroke="#666" stroke-width="1.15"/>
<line x1="127.95" y1="643.00" x2="130.45" y2="643.00" stroke="#666" stroke-width="1.15"/>
<rect x="124.60" y="646.00" width="9.20" height="39.20" fill="#7f7f7f" stroke="#505050" stroke-width="0.85"/>
<rect x="174.50" y="600.50" width="33.10" height="84.70" fill="#fff" stroke="#b4b4b4" stroke-width="1"/>
<line x1="172.50" y1="600.50" x2="207.60" y2="600.50" stroke="#adadad" stroke-width="1"/>
<line x1="172.50" y1="617.44" x2="207.60" y2="617.44" stroke="#adadad" stroke-width="1"/>
<line x1="172.50" y1="634.38" x2="207.60" y2="634.38" stroke="#adadad" stroke-width="1"/>
<line x1="172.50" y1="651.32" x2="207.60" y2="651.32" stroke="#adadad" stroke-width="1"/>
<line x1="172.50" y1="668.26" x2="207.60" y2="668.26" stroke="#adadad" stroke-width="1"/>
<line x1="172.50" y1="685.20" x2="207.60" y2="685.20" stroke="#adadad" stroke-width="1"/>
<text x="167.60" y="602.95" font-size="6.8" text-anchor="end" font-weight="bold" fill="#111" stroke="#111" stroke-width="0.1" >0.5</text>
<text x="167.60" y="619.89" font-size="6.8" text-anchor="end" font-weight="bold" fill="#111" stroke="#111" stroke-width="0.1" >0.4</text>
<text x="167.60" y="636.83" font-size="6.8" text-anchor="end" font-weight="bold" fill="#111" stroke="#111" stroke-width="0.1" >0.3</text>
<text x="167.60" y="653.77" font-size="6.8" text-anchor="end" font-weight="bold" fill="#111" stroke="#111" stroke-width="0.1" >0.2</text>
<text x="167.60" y="670.71" font-size="6.8" text-anchor="end" font-weight="bold" fill="#111" stroke="#111" stroke-width="0.1" >0.1</text>
<text x="167.60" y="687.65" font-size="6.8" text-anchor="end" font-weight="bold" fill="#111" stroke="#111" stroke-width="0.1" >0</text>
<line x1="186.15" y1="667.30" x2="186.15" y2="668.00" stroke="#666" stroke-width="1.15"/>
<line x1="184.90" y1="667.30" x2="187.40" y2="667.30" stroke="#666" stroke-width="1.15"/>
<rect x="181.50" y="668.00" width="9.30" height="17.20" fill="#fff" stroke="#444" stroke-width="0.85"/>
<line x1="195.70" y1="630.00" x2="195.70" y2="636.30" stroke="#666" stroke-width="1.15"/>
<line x1="194.45" y1="630.00" x2="196.95" y2="630.00" stroke="#666" stroke-width="1.15"/>
<rect x="190.80" y="636.30" width="9.80" height="48.90" fill="#7f7f7f" stroke="#505050" stroke-width="0.85"/>
<rect x="245.30" y="600.50" width="29.90" height="84.70" fill="#fff" stroke="#b4b4b4" stroke-width="1"/>
<line x1="243.30" y1="600.50" x2="275.20" y2="600.50" stroke="#adadad" stroke-width="1"/>
<line x1="243.30" y1="621.67" x2="275.20" y2="621.67" stroke="#adadad" stroke-width="1"/>
<line x1="243.30" y1="642.85" x2="275.20" y2="642.85" stroke="#adadad" stroke-width="1"/>
<line x1="243.30" y1="664.03" x2="275.20" y2="664.03" stroke="#adadad" stroke-width="1"/>
<line x1="243.30" y1="685.20" x2="275.20" y2="685.20" stroke="#adadad" stroke-width="1"/>
<text x="238.50" y="602.95" font-size="6.8" text-anchor="end" font-weight="bold" fill="#111" stroke="#111" stroke-width="0.1" >0.04</text>
<text x="238.50" y="624.12" font-size="6.8" text-anchor="end" font-weight="bold" fill="#111" stroke="#111" stroke-width="0.1" >0.03</text>
<text x="238.50" y="645.30" font-size="6.8" text-anchor="end" font-weight="bold" fill="#111" stroke="#111" stroke-width="0.1" >0.02</text>
<text x="238.50" y="666.47" font-size="6.8" text-anchor="end" font-weight="bold" fill="#111" stroke="#111" stroke-width="0.1" >0.01</text>
<text x="238.50" y="687.65" font-size="6.8" text-anchor="end" font-weight="bold" fill="#111" stroke="#111" stroke-width="0.1" >0</text>
<line x1="255.70" y1="655.00" x2="255.70" y2="655.40" stroke="#666" stroke-width="1.15"/>
<line x1="254.45" y1="655.00" x2="256.95" y2="655.00" stroke="#666" stroke-width="1.15"/>
<rect x="251.40" y="655.40" width="8.60" height="29.80" fill="#fff" stroke="#444" stroke-width="0.85"/>
<line x1="264.60" y1="637.50" x2="264.60" y2="642.00" stroke="#666" stroke-width="1.15"/>
<line x1="263.35" y1="637.50" x2="265.85" y2="637.50" stroke="#666" stroke-width="1.15"/>
<rect x="260.00" y="642.00" width="9.20" height="43.20" fill="#7f7f7f" stroke="#505050" stroke-width="0.85"/>
<rect x="108.80" y="701.20" width="31.60" height="84.80" fill="#fff" stroke="#b4b4b4" stroke-width="1"/>
<line x1="106.80" y1="701.20" x2="140.40" y2="701.20" stroke="#adadad" stroke-width="1"/>
<line x1="106.80" y1="743.60" x2="140.40" y2="743.60" stroke="#adadad" stroke-width="1"/>
<line x1="106.80" y1="786.00" x2="140.40" y2="786.00" stroke="#adadad" stroke-width="1"/>
<text x="102.40" y="703.65" font-size="6.8" text-anchor="end" font-weight="bold" fill="#111" stroke="#111" stroke-width="0.1" >20</text>
<text x="102.40" y="746.05" font-size="6.8" text-anchor="end" font-weight="bold" fill="#111" stroke="#111" stroke-width="0.1" >10</text>
<text x="102.40" y="788.45" font-size="6.8" text-anchor="end" font-weight="bold" fill="#111" stroke="#111" stroke-width="0.1" >0</text>
<line x1="120.30" y1="743.50" x2="120.30" y2="745.80" stroke="#666" stroke-width="1.15"/>
<line x1="119.05" y1="743.50" x2="121.55" y2="743.50" stroke="#666" stroke-width="1.15"/>
<rect x="116.00" y="745.80" width="8.60" height="40.20" fill="#fff" stroke="#444" stroke-width="0.85"/>
<line x1="129.20" y1="740.00" x2="129.20" y2="743.30" stroke="#666" stroke-width="1.15"/>
<line x1="127.95" y1="740.00" x2="130.45" y2="740.00" stroke="#666" stroke-width="1.15"/>
<rect x="124.60" y="743.30" width="9.20" height="42.70" fill="#7f7f7f" stroke="#505050" stroke-width="0.85"/>
<rect x="173.80" y="701.30" width="33.50" height="84.70" fill="#fff" stroke="#b4b4b4" stroke-width="1"/>
<line x1="171.80" y1="701.30" x2="207.30" y2="701.30" stroke="#adadad" stroke-width="1"/>
<line x1="171.80" y1="718.24" x2="207.30" y2="718.24" stroke="#adadad" stroke-width="1"/>
<line x1="171.80" y1="735.18" x2="207.30" y2="735.18" stroke="#adadad" stroke-width="1"/>
<line x1="171.80" y1="752.12" x2="207.30" y2="752.12" stroke="#adadad" stroke-width="1"/>
<line x1="171.80" y1="769.06" x2="207.30" y2="769.06" stroke="#adadad" stroke-width="1"/>
<line x1="171.80" y1="786.00" x2="207.30" y2="786.00" stroke="#adadad" stroke-width="1"/>
<text x="167.60" y="703.75" font-size="6.8" text-anchor="end" font-weight="bold" fill="#111" stroke="#111" stroke-width="0.1" >0.5</text>
<text x="167.60" y="720.69" font-size="6.8" text-anchor="end" font-weight="bold" fill="#111" stroke="#111" stroke-width="0.1" >0.4</text>
<text x="167.60" y="737.63" font-size="6.8" text-anchor="end" font-weight="bold" fill="#111" stroke="#111" stroke-width="0.1" >0.3</text>
<text x="167.60" y="754.57" font-size="6.8" text-anchor="end" font-weight="bold" fill="#111" stroke="#111" stroke-width="0.1" >0.2</text>
<text x="167.60" y="771.51" font-size="6.8" text-anchor="end" font-weight="bold" fill="#111" stroke="#111" stroke-width="0.1" >0.1</text>
<text x="167.60" y="788.45" font-size="6.8" text-anchor="end" font-weight="bold" fill="#111" stroke="#111" stroke-width="0.1" >0</text>
<line x1="186.15" y1="765.50" x2="186.15" y2="767.00" stroke="#666" stroke-width="1.15"/>
<line x1="184.90" y1="765.50" x2="187.40" y2="765.50" stroke="#666" stroke-width="1.15"/>
<rect x="181.50" y="767.00" width="9.30" height="19.00" fill="#fff" stroke="#444" stroke-width="0.85"/>
<line x1="195.70" y1="734.40" x2="195.70" y2="741.80" stroke="#666" stroke-width="1.15"/>
<line x1="194.45" y1="734.40" x2="196.95" y2="734.40" stroke="#666" stroke-width="1.15"/>
<rect x="190.80" y="741.80" width="9.80" height="44.20" fill="#7f7f7f" stroke="#505050" stroke-width="0.85"/>
<polygon points="195.40,723.80 196.31,726.24 198.92,726.36 196.88,727.98 197.57,730.49 195.40,729.05 193.23,730.49 193.92,727.98 191.88,726.36 194.49,726.24" fill="#000"/>
<rect x="245.50" y="699.00" width="29.00" height="84.80" fill="#fff" stroke="#b4b4b4" stroke-width="1"/>
<line x1="243.50" y1="699.00" x2="274.50" y2="699.00" stroke="#adadad" stroke-width="1"/>
<line x1="243.50" y1="720.20" x2="274.50" y2="720.20" stroke="#adadad" stroke-width="1"/>
<line x1="243.50" y1="741.40" x2="274.50" y2="741.40" stroke="#adadad" stroke-width="1"/>
<line x1="243.50" y1="762.60" x2="274.50" y2="762.60" stroke="#adadad" stroke-width="1"/>
<line x1="243.50" y1="783.80" x2="274.50" y2="783.80" stroke="#adadad" stroke-width="1"/>
<text x="239.00" y="701.45" font-size="6.8" text-anchor="end" font-weight="bold" fill="#111" stroke="#111" stroke-width="0.1" >0.04</text>
<text x="239.00" y="722.65" font-size="6.8" text-anchor="end" font-weight="bold" fill="#111" stroke="#111" stroke-width="0.1" >0.03</text>
<text x="239.00" y="743.85" font-size="6.8" text-anchor="end" font-weight="bold" fill="#111" stroke="#111" stroke-width="0.1" >0.02</text>
<text x="239.00" y="765.05" font-size="6.8" text-anchor="end" font-weight="bold" fill="#111" stroke="#111" stroke-width="0.1" >0.01</text>
<text x="239.00" y="786.25" font-size="6.8" text-anchor="end" font-weight="bold" fill="#111" stroke="#111" stroke-width="0.1" >0</text>
<line x1="255.70" y1="761.00" x2="255.70" y2="763.00" stroke="#666" stroke-width="1.15"/>
<line x1="254.45" y1="761.00" x2="256.95" y2="761.00" stroke="#666" stroke-width="1.15"/>
<rect x="251.40" y="763.00" width="8.60" height="20.80" fill="#fff" stroke="#444" stroke-width="0.85"/>
<line x1="264.60" y1="734.40" x2="264.60" y2="743.30" stroke="#666" stroke-width="1.15"/>
<line x1="263.35" y1="734.40" x2="265.85" y2="734.40" stroke="#666" stroke-width="1.15"/>
<rect x="260.00" y="743.30" width="9.20" height="40.50" fill="#7f7f7f" stroke="#505050" stroke-width="0.85"/>
<polygon points="264.00,723.80 264.91,726.24 267.52,726.36 265.48,727.98 266.17,730.49 264.00,729.05 261.83,730.49 262.52,727.98 260.48,726.36 263.09,726.24" fill="#000"/>
<rect x="108.80" y="796.80" width="31.60" height="91.20" fill="#fff" stroke="#b4b4b4" stroke-width="1"/>
<line x1="106.80" y1="796.80" x2="140.40" y2="796.80" stroke="#adadad" stroke-width="1"/>
<line x1="106.80" y1="842.40" x2="140.40" y2="842.40" stroke="#adadad" stroke-width="1"/>
<line x1="106.80" y1="888.00" x2="140.40" y2="888.00" stroke="#adadad" stroke-width="1"/>
<text x="102.40" y="799.25" font-size="6.8" text-anchor="end" font-weight="bold" fill="#111" stroke="#111" stroke-width="0.1" >20</text>
<text x="102.40" y="844.85" font-size="6.8" text-anchor="end" font-weight="bold" fill="#111" stroke="#111" stroke-width="0.1" >10</text>
<text x="102.40" y="890.45" font-size="6.8" text-anchor="end" font-weight="bold" fill="#111" stroke="#111" stroke-width="0.1" >0</text>
<line x1="120.00" y1="850.60" x2="120.00" y2="853.60" stroke="#666" stroke-width="1.15"/>
<line x1="118.75" y1="850.60" x2="121.25" y2="850.60" stroke="#666" stroke-width="1.15"/>
<rect x="115.40" y="853.60" width="9.20" height="34.40" fill="#fff" stroke="#444" stroke-width="0.85"/>
<line x1="129.20" y1="843.00" x2="129.20" y2="851.00" stroke="#666" stroke-width="1.15"/>
<line x1="127.95" y1="843.00" x2="130.45" y2="843.00" stroke="#666" stroke-width="1.15"/>
<rect x="124.60" y="851.00" width="9.20" height="37.00" fill="#7f7f7f" stroke="#505050" stroke-width="0.85"/>
<rect x="176.30" y="796.80" width="32.00" height="91.20" fill="#fff" stroke="#b4b4b4" stroke-width="1"/>
<line x1="174.30" y1="796.80" x2="208.30" y2="796.80" stroke="#adadad" stroke-width="1"/>
<line x1="174.30" y1="815.04" x2="208.30" y2="815.04" stroke="#adadad" stroke-width="1"/>
<line x1="174.30" y1="833.28" x2="208.30" y2="833.28" stroke="#adadad" stroke-width="1"/>
<line x1="174.30" y1="851.52" x2="208.30" y2="851.52" stroke="#adadad" stroke-width="1"/>
<line x1="174.30" y1="869.76" x2="208.30" y2="869.76" stroke="#adadad" stroke-width="1"/>
<line x1="174.30" y1="888.00" x2="208.30" y2="888.00" stroke="#adadad" stroke-width="1"/>
<text x="170.00" y="799.25" font-size="6.8" text-anchor="end" font-weight="bold" fill="#111" stroke="#111" stroke-width="0.1" >0.5</text>
<text x="170.00" y="817.49" font-size="6.8" text-anchor="end" font-weight="bold" fill="#111" stroke="#111" stroke-width="0.1" >0.4</text>
<text x="170.00" y="835.73" font-size="6.8" text-anchor="end" font-weight="bold" fill="#111" stroke="#111" stroke-width="0.1" >0.3</text>
<text x="170.00" y="853.97" font-size="6.8" text-anchor="end" font-weight="bold" fill="#111" stroke="#111" stroke-width="0.1" >0.2</text>
<text x="170.00" y="872.21" font-size="6.8" text-anchor="end" font-weight="bold" fill="#111" stroke="#111" stroke-width="0.1" >0.1</text>
<text x="170.00" y="890.45" font-size="6.8" text-anchor="end" font-weight="bold" fill="#111" stroke="#111" stroke-width="0.1" >0</text>
<line x1="187.65" y1="870.30" x2="187.65" y2="871.00" stroke="#666" stroke-width="1.15"/>
<line x1="186.40" y1="870.30" x2="188.90" y2="870.30" stroke="#666" stroke-width="1.15"/>
<rect x="183.00" y="871.00" width="9.30" height="17.00" fill="#fff" stroke="#444" stroke-width="0.85"/>
<line x1="197.15" y1="797.00" x2="197.15" y2="801.70" stroke="#666" stroke-width="1.15"/>
<line x1="195.90" y1="797.00" x2="198.40" y2="797.00" stroke="#666" stroke-width="1.15"/>
<rect x="192.30" y="801.70" width="9.70" height="86.30" fill="#7f7f7f" stroke="#505050" stroke-width="0.85"/>
<rect x="246.00" y="796.80" width="29.40" height="91.20" fill="#fff" stroke="#b4b4b4" stroke-width="1"/>
<line x1="244.00" y1="796.80" x2="275.40" y2="796.80" stroke="#adadad" stroke-width="1"/>
<line x1="244.00" y1="819.60" x2="275.40" y2="819.60" stroke="#adadad" stroke-width="1"/>
<line x1="244.00" y1="842.40" x2="275.40" y2="842.40" stroke="#adadad" stroke-width="1"/>
<line x1="244.00" y1="865.20" x2="275.40" y2="865.20" stroke="#adadad" stroke-width="1"/>
<line x1="244.00" y1="888.00" x2="275.40" y2="888.00" stroke="#adadad" stroke-width="1"/>
<text x="239.00" y="799.25" font-size="6.8" text-anchor="end" font-weight="bold" fill="#111" stroke="#111" stroke-width="0.1" >0.04</text>
<text x="239.00" y="822.05" font-size="6.8" text-anchor="end" font-weight="bold" fill="#111" stroke="#111" stroke-width="0.1" >0.03</text>
<text x="239.00" y="844.85" font-size="6.8" text-anchor="end" font-weight="bold" fill="#111" stroke="#111" stroke-width="0.1" >0.02</text>
<text x="239.00" y="867.65" font-size="6.8" text-anchor="end" font-weight="bold" fill="#111" stroke="#111" stroke-width="0.1" >0.01</text>
<text x="239.00" y="890.45" font-size="6.8" text-anchor="end" font-weight="bold" fill="#111" stroke="#111" stroke-width="0.1" >0</text>
<line x1="256.65" y1="845.50" x2="256.65" y2="850.50" stroke="#666" stroke-width="1.15"/>
<line x1="255.40" y1="845.50" x2="257.90" y2="845.50" stroke="#666" stroke-width="1.15"/>
<rect x="252.30" y="850.50" width="8.70" height="37.50" fill="#fff" stroke="#444" stroke-width="0.85"/>
<line x1="265.40" y1="807.50" x2="265.40" y2="812.00" stroke="#666" stroke-width="1.15"/>
<line x1="264.15" y1="807.50" x2="266.65" y2="807.50" stroke="#666" stroke-width="1.15"/>
<rect x="261.00" y="812.00" width="8.80" height="76.00" fill="#7f7f7f" stroke="#505050" stroke-width="0.85"/>
<polygon points="264.60,798.30 265.51,800.74 268.12,800.86 266.08,802.48 266.77,804.99 264.60,803.55 262.43,804.99 263.12,802.48 261.08,800.86 263.69,800.74" fill="#000"/>
<rect x="308.60" y="600.50" width="30.40" height="84.70" fill="#fff" stroke="#b4b4b4" stroke-width="1"/>
<line x1="306.60" y1="600.50" x2="339.00" y2="600.50" stroke="#adadad" stroke-width="1"/>
<line x1="306.60" y1="621.67" x2="339.00" y2="621.67" stroke="#adadad" stroke-width="1"/>
<line x1="306.60" y1="642.85" x2="339.00" y2="642.85" stroke="#adadad" stroke-width="1"/>
<line x1="306.60" y1="664.03" x2="339.00" y2="664.03" stroke="#adadad" stroke-width="1"/>
<line x1="306.60" y1="685.20" x2="339.00" y2="685.20" stroke="#adadad" stroke-width="1"/>
<text x="302.50" y="602.95" font-size="6.8" text-anchor="end" font-weight="bold" fill="#111" stroke="#111" stroke-width="0.1" >20</text>
<text x="302.50" y="624.12" font-size="6.8" text-anchor="end" font-weight="bold" fill="#111" stroke="#111" stroke-width="0.1" >15</text>
<text x="302.50" y="645.30" font-size="6.8" text-anchor="end" font-weight="bold" fill="#111" stroke="#111" stroke-width="0.1" >10</text>
<text x="302.50" y="666.47" font-size="6.8" text-anchor="end" font-weight="bold" fill="#111" stroke="#111" stroke-width="0.1" >5</text>
<text x="302.50" y="687.65" font-size="6.8" text-anchor="end" font-weight="bold" fill="#111" stroke="#111" stroke-width="0.1" >0</text>
<line x1="320.30" y1="617.50" x2="320.30" y2="625.50" stroke="#666" stroke-width="1.15"/>
<line x1="319.05" y1="617.50" x2="321.55" y2="617.50" stroke="#666" stroke-width="1.15"/>
<rect x="316.00" y="625.50" width="8.60" height="59.70" fill="#fff" stroke="#444" stroke-width="0.85"/>
<line x1="329.20" y1="614.80" x2="329.20" y2="617.50" stroke="#666" stroke-width="1.15"/>
<line x1="327.95" y1="614.80" x2="330.45" y2="614.80" stroke="#666" stroke-width="1.15"/>
<rect x="324.60" y="617.50" width="9.20" height="67.70" fill="#7f7f7f" stroke="#505050" stroke-width="0.85"/>
<rect x="378.50" y="600.50" width="28.50" height="84.70" fill="#fff" stroke="#b4b4b4" stroke-width="1"/>
<line x1="376.50" y1="600.50" x2="407.00" y2="600.50" stroke="#adadad" stroke-width="1"/>
<line x1="376.50" y1="621.67" x2="407.00" y2="621.67" stroke="#adadad" stroke-width="1"/>
<line x1="376.50" y1="642.85" x2="407.00" y2="642.85" stroke="#adadad" stroke-width="1"/>
<line x1="376.50" y1="664.03" x2="407.00" y2="664.03" stroke="#adadad" stroke-width="1"/>
<line x1="376.50" y1="685.20" x2="407.00" y2="685.20" stroke="#adadad" stroke-width="1"/>
<text x="371.60" y="602.95" font-size="6.8" text-anchor="end" font-weight="bold" fill="#111" stroke="#111" stroke-width="0.1" >0.08</text>
<text x="371.60" y="624.12" font-size="6.8" text-anchor="end" font-weight="bold" fill="#111" stroke="#111" stroke-width="0.1" >0.06</text>
<text x="371.60" y="645.30" font-size="6.8" text-anchor="end" font-weight="bold" fill="#111" stroke="#111" stroke-width="0.1" >0.04</text>
<text x="371.60" y="666.47" font-size="6.8" text-anchor="end" font-weight="bold" fill="#111" stroke="#111" stroke-width="0.1" >0.02</text>
<text x="371.60" y="687.65" font-size="6.8" text-anchor="end" font-weight="bold" fill="#111" stroke="#111" stroke-width="0.1" >0</text>
<line x1="388.90" y1="620.60" x2="388.90" y2="633.20" stroke="#666" stroke-width="1.15"/>
<line x1="387.65" y1="620.60" x2="390.15" y2="620.60" stroke="#666" stroke-width="1.15"/>
<rect x="384.60" y="633.20" width="8.60" height="52.00" fill="#fff" stroke="#444" stroke-width="0.85"/>
<line x1="397.10" y1="651.00" x2="397.10" y2="651.70" stroke="#666" stroke-width="1.15"/>
<line x1="395.85" y1="651.00" x2="398.35" y2="651.00" stroke="#666" stroke-width="1.15"/>
<rect x="393.20" y="651.70" width="7.80" height="33.50" fill="#7f7f7f" stroke="#505050" stroke-width="0.85"/>
<rect x="444.50" y="601.50" width="31.70" height="81.20" fill="#fff" stroke="#b4b4b4" stroke-width="1"/>
<line x1="442.50" y1="601.50" x2="476.20" y2="601.50" stroke="#adadad" stroke-width="1"/>
<line x1="442.50" y1="642.10" x2="476.20" y2="642.10" stroke="#adadad" stroke-width="1"/>
<line x1="442.50" y1="682.70" x2="476.20" y2="682.70" stroke="#adadad" stroke-width="1"/>
<text x="438.00" y="603.95" font-size="6.8" text-anchor="end" font-weight="bold" fill="#111" stroke="#111" stroke-width="0.1" >0.01</text>
<text x="438.00" y="644.55" font-size="6.8" text-anchor="end" font-weight="bold" fill="#111" stroke="#111" stroke-width="0.1" >0.005</text>
<text x="438.00" y="685.15" font-size="6.8" text-anchor="end" font-weight="bold" fill="#111" stroke="#111" stroke-width="0.1" >0</text>
<line x1="455.85" y1="658.50" x2="455.85" y2="662.00" stroke="#666" stroke-width="1.15"/>
<line x1="454.60" y1="658.50" x2="457.10" y2="658.50" stroke="#666" stroke-width="1.15"/>
<rect x="451.20" y="662.00" width="9.30" height="20.70" fill="#fff" stroke="#444" stroke-width="0.85"/>
<line x1="464.85" y1="663.50" x2="464.85" y2="664.70" stroke="#666" stroke-width="1.15"/>
<line x1="463.60" y1="663.50" x2="466.10" y2="663.50" stroke="#666" stroke-width="1.15"/>
<rect x="460.50" y="664.70" width="8.70" height="18.00" fill="#7f7f7f" stroke="#505050" stroke-width="0.85"/>
<rect x="308.60" y="701.00" width="30.40" height="83.50" fill="#fff" stroke="#b4b4b4" stroke-width="1"/>
<line x1="306.60" y1="701.00" x2="339.00" y2="701.00" stroke="#adadad" stroke-width="1"/>
<line x1="306.60" y1="742.75" x2="339.00" y2="742.75" stroke="#adadad" stroke-width="1"/>
<line x1="306.60" y1="784.50" x2="339.00" y2="784.50" stroke="#adadad" stroke-width="1"/>
<text x="302.50" y="703.45" font-size="6.8" text-anchor="end" font-weight="bold" fill="#111" stroke="#111" stroke-width="0.1" >20</text>
<text x="302.50" y="745.20" font-size="6.8" text-anchor="end" font-weight="bold" fill="#111" stroke="#111" stroke-width="0.1" >10</text>
<text x="302.50" y="786.95" font-size="6.8" text-anchor="end" font-weight="bold" fill="#111" stroke="#111" stroke-width="0.1" >0</text>
<line x1="320.00" y1="742.70" x2="320.00" y2="747.30" stroke="#666" stroke-width="1.15"/>
<line x1="318.75" y1="742.70" x2="321.25" y2="742.70" stroke="#666" stroke-width="1.15"/>
<rect x="315.40" y="747.30" width="9.20" height="37.20" fill="#fff" stroke="#444" stroke-width="0.85"/>
<line x1="328.90" y1="725.80" x2="328.90" y2="731.00" stroke="#666" stroke-width="1.15"/>
<line x1="327.65" y1="725.80" x2="330.15" y2="725.80" stroke="#666" stroke-width="1.15"/>
<rect x="324.60" y="731.00" width="8.60" height="53.50" fill="#7f7f7f" stroke="#505050" stroke-width="0.85"/>
<polygon points="327.70,717.30 328.61,719.74 331.22,719.86 329.18,721.48 329.87,723.99 327.70,722.55 325.53,723.99 326.22,721.48 324.18,719.86 326.79,719.74" fill="#000"/>
<rect x="378.50" y="702.00" width="28.50" height="80.50" fill="#fff" stroke="#b4b4b4" stroke-width="1"/>
<line x1="376.50" y1="702.00" x2="407.00" y2="702.00" stroke="#adadad" stroke-width="1"/>
<line x1="376.50" y1="722.12" x2="407.00" y2="722.12" stroke="#adadad" stroke-width="1"/>
<line x1="376.50" y1="742.25" x2="407.00" y2="742.25" stroke="#adadad" stroke-width="1"/>
<line x1="376.50" y1="762.38" x2="407.00" y2="762.38" stroke="#adadad" stroke-width="1"/>
<line x1="376.50" y1="782.50" x2="407.00" y2="782.50" stroke="#adadad" stroke-width="1"/>
<text x="371.60" y="704.45" font-size="6.8" text-anchor="end" font-weight="bold" fill="#111" stroke="#111" stroke-width="0.1" >0.08</text>
<text x="371.60" y="724.57" font-size="6.8" text-anchor="end" font-weight="bold" fill="#111" stroke="#111" stroke-width="0.1" >0.06</text>
<text x="371.60" y="744.70" font-size="6.8" text-anchor="end" font-weight="bold" fill="#111" stroke="#111" stroke-width="0.1" >0.04</text>
<text x="371.60" y="764.82" font-size="6.8" text-anchor="end" font-weight="bold" fill="#111" stroke="#111" stroke-width="0.1" >0.02</text>
<text x="371.60" y="784.95" font-size="6.8" text-anchor="end" font-weight="bold" fill="#111" stroke="#111" stroke-width="0.1" >0</text>
<line x1="388.90" y1="733.50" x2="388.90" y2="745.00" stroke="#666" stroke-width="1.15"/>
<line x1="387.65" y1="733.50" x2="390.15" y2="733.50" stroke="#666" stroke-width="1.15"/>
<rect x="384.60" y="745.00" width="8.60" height="37.50" fill="#fff" stroke="#444" stroke-width="0.85"/>
<line x1="397.10" y1="702.70" x2="397.10" y2="718.00" stroke="#666" stroke-width="1.15"/>
<line x1="395.85" y1="702.70" x2="398.35" y2="702.70" stroke="#666" stroke-width="1.15"/>
<rect x="393.20" y="718.00" width="7.80" height="64.50" fill="#7f7f7f" stroke="#505050" stroke-width="0.85"/>
<rect x="443.80" y="701.80" width="32.40" height="79.40" fill="#fff" stroke="#b4b4b4" stroke-width="1"/>
<line x1="441.80" y1="701.80" x2="476.20" y2="701.80" stroke="#adadad" stroke-width="1"/>
<line x1="441.80" y1="741.50" x2="476.20" y2="741.50" stroke="#adadad" stroke-width="1"/>
<line x1="441.80" y1="781.20" x2="476.20" y2="781.20" stroke="#adadad" stroke-width="1"/>
<text x="438.00" y="704.25" font-size="6.8" text-anchor="end" font-weight="bold" fill="#111" stroke="#111" stroke-width="0.1" >0.01</text>
<text x="438.00" y="743.95" font-size="6.8" text-anchor="end" font-weight="bold" fill="#111" stroke="#111" stroke-width="0.1" >0.005</text>
<text x="438.00" y="783.65" font-size="6.8" text-anchor="end" font-weight="bold" fill="#111" stroke="#111" stroke-width="0.1" >0</text>
<line x1="455.40" y1="766.50" x2="455.40" y2="768.50" stroke="#666" stroke-width="1.15"/>
<line x1="454.15" y1="766.50" x2="456.65" y2="766.50" stroke="#666" stroke-width="1.15"/>
<rect x="450.30" y="768.50" width="10.20" height="12.70" fill="#fff" stroke="#444" stroke-width="0.85"/>
<line x1="464.85" y1="722.40" x2="464.85" y2="733.50" stroke="#666" stroke-width="1.15"/>
<line x1="463.60" y1="722.40" x2="466.10" y2="722.40" stroke="#666" stroke-width="1.15"/>
<rect x="460.50" y="733.50" width="8.70" height="47.70" fill="#7f7f7f" stroke="#505050" stroke-width="0.85"/>
<polygon points="464.60,713.80 465.51,716.24 468.12,716.36 466.08,717.98 466.77,720.49 464.60,719.05 462.43,720.49 463.12,717.98 461.08,716.36 463.69,716.24" fill="#000"/>
<rect x="308.60" y="796.80" width="29.90" height="91.20" fill="#fff" stroke="#b4b4b4" stroke-width="1"/>
<line x1="306.60" y1="796.80" x2="338.50" y2="796.80" stroke="#adadad" stroke-width="1"/>
<line x1="306.60" y1="842.40" x2="338.50" y2="842.40" stroke="#adadad" stroke-width="1"/>
<line x1="306.60" y1="888.00" x2="338.50" y2="888.00" stroke="#adadad" stroke-width="1"/>
<text x="302.50" y="799.25" font-size="6.8" text-anchor="end" font-weight="bold" fill="#111" stroke="#111" stroke-width="0.1" >20</text>
<text x="302.50" y="844.85" font-size="6.8" text-anchor="end" font-weight="bold" fill="#111" stroke="#111" stroke-width="0.1" >10</text>
<text x="302.50" y="890.45" font-size="6.8" text-anchor="end" font-weight="bold" fill="#111" stroke="#111" stroke-width="0.1" >0</text>
<line x1="319.70" y1="856.40" x2="319.70" y2="860.40" stroke="#666" stroke-width="1.15"/>
<line x1="318.45" y1="856.40" x2="320.95" y2="856.40" stroke="#666" stroke-width="1.15"/>
<rect x="315.40" y="860.40" width="8.60" height="27.60" fill="#fff" stroke="#444" stroke-width="0.85"/>
<line x1="328.15" y1="843.80" x2="328.15" y2="851.00" stroke="#666" stroke-width="1.15"/>
<line x1="326.90" y1="843.80" x2="329.40" y2="843.80" stroke="#666" stroke-width="1.15"/>
<rect x="324.00" y="851.00" width="8.30" height="37.00" fill="#7f7f7f" stroke="#505050" stroke-width="0.85"/>
<rect x="378.50" y="797.70" width="28.50" height="88.80" fill="#fff" stroke="#b4b4b4" stroke-width="1"/>
<line x1="376.50" y1="797.70" x2="407.00" y2="797.70" stroke="#adadad" stroke-width="1"/>
<line x1="376.50" y1="819.90" x2="407.00" y2="819.90" stroke="#adadad" stroke-width="1"/>
<line x1="376.50" y1="842.10" x2="407.00" y2="842.10" stroke="#adadad" stroke-width="1"/>
<line x1="376.50" y1="864.30" x2="407.00" y2="864.30" stroke="#adadad" stroke-width="1"/>
<line x1="376.50" y1="886.50" x2="407.00" y2="886.50" stroke="#adadad" stroke-width="1"/>
<text x="371.60" y="800.15" font-size="6.8" text-anchor="end" font-weight="bold" fill="#111" stroke="#111" stroke-width="0.1" >0.08</text>
<text x="371.60" y="822.35" font-size="6.8" text-anchor="end" font-weight="bold" fill="#111" stroke="#111" stroke-width="0.1" >0.06</text>
<text x="371.60" y="844.55" font-size="6.8" text-anchor="end" font-weight="bold" fill="#111" stroke="#111" stroke-width="0.1" >0.04</text>
<text x="371.60" y="866.75" font-size="6.8" text-anchor="end" font-weight="bold" fill="#111" stroke="#111" stroke-width="0.1" >0.02</text>
<text x="371.60" y="888.95" font-size="6.8" text-anchor="end" font-weight="bold" fill="#111" stroke="#111" stroke-width="0.1" >0</text>
<line x1="388.80" y1="872.70" x2="388.80" y2="875.80" stroke="#666" stroke-width="1.15"/>
<line x1="387.55" y1="872.70" x2="390.05" y2="872.70" stroke="#666" stroke-width="1.15"/>
<rect x="384.60" y="875.80" width="8.40" height="10.70" fill="#fff" stroke="#444" stroke-width="0.85"/>
<line x1="397.25" y1="797.70" x2="397.25" y2="816.00" stroke="#666" stroke-width="1.15"/>
<line x1="396.00" y1="797.70" x2="398.50" y2="797.70" stroke="#666" stroke-width="1.15"/>
<rect x="393.00" y="816.00" width="8.50" height="70.50" fill="#7f7f7f" stroke="#505050" stroke-width="0.85"/>
<rect x="442.20" y="797.80" width="34.00" height="88.70" fill="#fff" stroke="#b4b4b4" stroke-width="1"/>
<line x1="440.20" y1="797.80" x2="476.20" y2="797.80" stroke="#adadad" stroke-width="1"/>
<line x1="440.20" y1="842.15" x2="476.20" y2="842.15" stroke="#adadad" stroke-width="1"/>
<line x1="440.20" y1="886.50" x2="476.20" y2="886.50" stroke="#adadad" stroke-width="1"/>
<text x="436.50" y="800.25" font-size="6.8" text-anchor="end" font-weight="bold" fill="#111" stroke="#111" stroke-width="0.1" >0.01</text>
<text x="436.50" y="844.60" font-size="6.8" text-anchor="end" font-weight="bold" fill="#111" stroke="#111" stroke-width="0.1" >0.005</text>
<text x="436.50" y="888.95" font-size="6.8" text-anchor="end" font-weight="bold" fill="#111" stroke="#111" stroke-width="0.1" >0</text>
<line x1="454.35" y1="866.20" x2="454.35" y2="872.20" stroke="#666" stroke-width="1.15"/>
<line x1="453.10" y1="866.20" x2="455.60" y2="866.20" stroke="#666" stroke-width="1.15"/>
<rect x="449.20" y="872.20" width="10.30" height="14.30" fill="#fff" stroke="#444" stroke-width="0.85"/>
<line x1="464.15" y1="801.00" x2="464.15" y2="803.00" stroke="#666" stroke-width="1.15"/>
<line x1="462.90" y1="801.00" x2="465.40" y2="801.00" stroke="#666" stroke-width="1.15"/>
<rect x="459.50" y="803.00" width="9.30" height="83.50" fill="#7f7f7f" stroke="#505050" stroke-width="0.85"/>
<polygon points="464.00,790.80 464.91,793.24 467.52,793.36 465.48,794.98 466.17,797.49 464.00,796.05 461.83,797.49 462.52,794.98 460.48,793.36 463.09,793.24" fill="#000"/>
<text x="77.60" y="942.30" font-size="12.3" text-anchor="start" font-weight="bold" fill="#000" stroke="#000" stroke-width="0.1" >D</text>
<rect x="157.00" y="933.60" width="183.50" height="309.20" fill="none" stroke="#3a3a3a" stroke-width="1.3"/>
<line x1="157.00" y1="1203.00" x2="340.50" y2="1203.00" stroke="#3a3a3a" stroke-width="1.3"/>
<line x1="157.00" y1="1223.80" x2="340.50" y2="1223.80" stroke="#3a3a3a" stroke-width="1.3"/>
<text x="250.00" y="946.50" font-size="10.7" text-anchor="middle" font-weight="normal" fill="#000" stroke="#000" stroke-width="0.5" >Bone Marrow + Spleen</text>
<text x="81.50" y="1003.50" font-size="9.5" text-anchor="start" font-weight="normal" fill="#000" stroke="#000" stroke-width="0.5" >1 month</text>
<text x="79.40" y="1087.00" font-size="9.3" text-anchor="start" font-weight="normal" fill="#000" stroke="#000" stroke-width="0.5" >3 months</text>
<text x="79.40" y="1171.30" font-size="9.3" text-anchor="start" font-weight="normal" fill="#000" stroke="#000" stroke-width="0.5" >6 months</text>
<line x1="139.00" y1="965.50" x2="139.00" y2="1030.00" stroke="#1a1a1a" stroke-width="1.05"/>
<path d="M136.2,969.2 L139,965 L141.8,969.2" fill="none" stroke="#111" stroke-width="1.1"/>
<text transform="translate(141.4,1085.6) rotate(-90)" font-size="10.85" text-anchor="middle" stroke="#000" stroke-width="0.45">Total numbers (x10<tspan font-size="7" dy="-3.4">6</tspan><tspan dy="3.4">)</tspan></text>
<line x1="137.00" y1="1140.50" x2="137.00" y2="1199.00" stroke="#1a1a1a" stroke-width="1.05"/>
<text x="196.00" y="1216.20" font-size="10.6" text-anchor="middle" font-weight="normal" fill="#000" stroke="#000" stroke-width="0.5" >Lin-</text>
<text x="256.00" y="1216.20" font-size="10.6" text-anchor="middle" font-weight="normal" fill="#000" stroke="#000" stroke-width="0.5" >LSK</text>
<text x="316.20" y="1216.20" font-size="10.6" text-anchor="middle" font-weight="normal" fill="#000" stroke="#000" stroke-width="0.5" >SLAM</text>
<text x="253.50" y="1236.60" font-size="11.6" text-anchor="middle" font-weight="normal" fill="#000" stroke="#000" stroke-width="0.5" >Total numbers</text>
<rect x="356.20" y="947.80" width="6.00" height="6.00" fill="#fff" stroke="#000" stroke-width="1"/>
<text x="363.50" y="954.60" font-size="10.5" text-anchor="start" font-weight="bold" fill="#000" stroke="#000" stroke-width="0.1" >WT</text>
<rect x="386.50" y="947.80" width="6.00" height="6.00" fill="#666666" stroke="#333" stroke-width="1"/>
<text x="394.00" y="954.60" font-size="10.5" text-anchor="start" font-weight="bold" fill="#000" stroke="#000" stroke-width="0.1" >KI</text>
<rect x="175.80" y="960.50" width="42.80" height="65.30" fill="#fff" stroke="#b4b4b4" stroke-width="1"/>
<line x1="173.80" y1="960.50" x2="218.60" y2="960.50" stroke="#adadad" stroke-width="1"/>
<line x1="173.80" y1="971.38" x2="218.60" y2="971.38" stroke="#adadad" stroke-width="1"/>
<line x1="173.80" y1="982.27" x2="218.60" y2="982.27" stroke="#adadad" stroke-width="1"/>
<line x1="173.80" y1="993.15" x2="218.60" y2="993.15" stroke="#adadad" stroke-width="1"/>
<line x1="173.80" y1="1004.03" x2="218.60" y2="1004.03" stroke="#adadad" stroke-width="1"/>
<line x1="173.80" y1="1014.92" x2="218.60" y2="1014.92" stroke="#adadad" stroke-width="1"/>
<line x1="173.80" y1="1025.80" x2="218.60" y2="1025.80" stroke="#adadad" stroke-width="1"/>
<text x="171.80" y="962.73" font-size="6.2" text-anchor="end" font-weight="bold" fill="#111" stroke="#111" stroke-width="0.1" >300</text>
<text x="171.80" y="973.62" font-size="6.2" text-anchor="end" font-weight="bold" fill="#111" stroke="#111" stroke-width="0.1" >250</text>
<text x="171.80" y="984.50" font-size="6.2" text-anchor="end" font-weight="bold" fill="#111" stroke="#111" stroke-width="0.1" >200</text>
<text x="171.80" y="995.38" font-size="6.2" text-anchor="end" font-weight="bold" fill="#111" stroke="#111" stroke-width="0.1" >150</text>
<text x="171.80" y="1006.27" font-size="6.2" text-anchor="end" font-weight="bold" fill="#111" stroke="#111" stroke-width="0.1" >100</text>
<text x="171.80" y="1017.15" font-size="6.2" text-anchor="end" font-weight="bold" fill="#111" stroke="#111" stroke-width="0.1" >50</text>
<text x="171.80" y="1028.03" font-size="6.2" text-anchor="end" font-weight="bold" fill="#111" stroke="#111" stroke-width="0.1" >0</text>
<line x1="191.30" y1="1007.30" x2="191.30" y2="1008.50" stroke="#666" stroke-width="1.15"/>
<line x1="190.05" y1="1007.30" x2="192.55" y2="1007.30" stroke="#666" stroke-width="1.15"/>
<rect x="185.30" y="1008.50" width="12.00" height="17.30" fill="#fff" stroke="#444" stroke-width="0.85"/>
<line x1="203.45" y1="968.50" x2="203.45" y2="978.20" stroke="#666" stroke-width="1.15"/>
<line x1="202.20" y1="968.50" x2="204.70" y2="968.50" stroke="#666" stroke-width="1.15"/>
<rect x="197.30" y="978.20" width="12.30" height="47.60" fill="#666666" stroke="#505050" stroke-width="0.85"/>
<polygon points="203.20,961.30 204.11,963.74 206.72,963.86 204.68,965.48 205.37,967.99 203.20,966.55 201.03,967.99 201.72,965.48 199.68,963.86 202.29,963.74" fill="#000"/>
<rect x="236.20" y="960.60" width="39.50" height="65.20" fill="#fff" stroke="#b4b4b4" stroke-width="1"/>
<line x1="234.20" y1="969.91" x2="275.70" y2="969.91" stroke="#adadad" stroke-width="1"/>
<line x1="234.20" y1="988.54" x2="275.70" y2="988.54" stroke="#adadad" stroke-width="1"/>
<line x1="234.20" y1="1007.17" x2="275.70" y2="1007.17" stroke="#adadad" stroke-width="1"/>
<line x1="234.20" y1="1025.80" x2="275.70" y2="1025.80" stroke="#adadad" stroke-width="1"/>
<text x="231.80" y="972.15" font-size="6.2" text-anchor="end" font-weight="bold" fill="#111" stroke="#111" stroke-width="0.1" >3</text>
<text x="231.80" y="990.77" font-size="6.2" text-anchor="end" font-weight="bold" fill="#111" stroke="#111" stroke-width="0.1" >2</text>
<text x="231.80" y="1009.40" font-size="6.2" text-anchor="end" font-weight="bold" fill="#111" stroke="#111" stroke-width="0.1" >1</text>
<text x="231.80" y="1028.03" font-size="6.2" text-anchor="end" font-weight="bold" fill="#111" stroke="#111" stroke-width="0.1" >0</text>
<line x1="250.55" y1="1000.50" x2="250.55" y2="1002.60" stroke="#666" stroke-width="1.15"/>
<line x1="249.30" y1="1000.50" x2="251.80" y2="1000.50" stroke="#666" stroke-width="1.15"/>
<rect x="244.60" y="1002.60" width="11.90" height="23.20" fill="#fff" stroke="#444" stroke-width="0.85"/>
<line x1="262.10" y1="1003.40" x2="262.10" y2="1009.20" stroke="#666" stroke-width="1.15"/>
<line x1="260.85" y1="1003.40" x2="263.35" y2="1003.40" stroke="#666" stroke-width="1.15"/>
<rect x="256.50" y="1009.20" width="11.20" height="16.60" fill="#666666" stroke="#505050" stroke-width="0.85"/>
<rect x="295.00" y="961.00" width="39.50" height="64.80" fill="#fff" stroke="#b4b4b4" stroke-width="1"/>
<line x1="293.00" y1="961.00" x2="334.50" y2="961.00" stroke="#adadad" stroke-width="1"/>
<line x1="293.00" y1="977.20" x2="334.50" y2="977.20" stroke="#adadad" stroke-width="1"/>
<line x1="293.00" y1="993.40" x2="334.50" y2="993.40" stroke="#adadad" stroke-width="1"/>
<line x1="293.00" y1="1009.60" x2="334.50" y2="1009.60" stroke="#adadad" stroke-width="1"/>
<line x1="293.00" y1="1025.80" x2="334.50" y2="1025.80" stroke="#adadad" stroke-width="1"/>
<text x="289.80" y="963.23" font-size="6.2" text-anchor="end" font-weight="bold" fill="#111" stroke="#111" stroke-width="0.1" >0.4</text>
<text x="289.80" y="979.43" font-size="6.2" text-anchor="end" font-weight="bold" fill="#111" stroke="#111" stroke-width="0.1" >0.3</text>
<text x="289.80" y="995.63" font-size="6.2" text-anchor="end" font-weight="bold" fill="#111" stroke="#111" stroke-width="0.1" >0.2</text>
<text x="289.80" y="1011.83" font-size="6.2" text-anchor="end" font-weight="bold" fill="#111" stroke="#111" stroke-width="0.1" >0.1</text>
<text x="289.80" y="1028.03" font-size="6.2" text-anchor="end" font-weight="bold" fill="#111" stroke="#111" stroke-width="0.1" >0</text>
<line x1="308.75" y1="1010.50" x2="308.75" y2="1012.70" stroke="#666" stroke-width="1.15"/>
<line x1="307.50" y1="1010.50" x2="310.00" y2="1010.50" stroke="#666" stroke-width="1.15"/>
<rect x="303.00" y="1012.70" width="11.50" height="13.10" fill="#fff" stroke="#444" stroke-width="0.85"/>
<line x1="320.00" y1="1013.00" x2="320.00" y2="1015.80" stroke="#666" stroke-width="1.15"/>
<line x1="318.75" y1="1013.00" x2="321.25" y2="1013.00" stroke="#666" stroke-width="1.15"/>
<rect x="314.50" y="1015.80" width="11.00" height="10.00" fill="#666666" stroke="#505050" stroke-width="0.85"/>
<rect x="175.40" y="1042.00" width="44.00" height="68.80" fill="#fff" stroke="#b4b4b4" stroke-width="1"/>
<line x1="173.40" y1="1042.00" x2="219.40" y2="1042.00" stroke="#adadad" stroke-width="1"/>
<line x1="173.40" y1="1053.47" x2="219.40" y2="1053.47" stroke="#adadad" stroke-width="1"/>
<line x1="173.40" y1="1064.93" x2="219.40" y2="1064.93" stroke="#adadad" stroke-width="1"/>
<line x1="173.40" y1="1076.40" x2="219.40" y2="1076.40" stroke="#adadad" stroke-width="1"/>
<line x1="173.40" y1="1087.87" x2="219.40" y2="1087.87" stroke="#adadad" stroke-width="1"/>
<line x1="173.40" y1="1099.33" x2="219.40" y2="1099.33" stroke="#adadad" stroke-width="1"/>
<line x1="173.40" y1="1110.80" x2="219.40" y2="1110.80" stroke="#adadad" stroke-width="1"/>
<text x="171.40" y="1044.23" font-size="6.2" text-anchor="end" font-weight="bold" fill="#111" stroke="#111" stroke-width="0.1" >300</text>
<text x="171.40" y="1055.70" font-size="6.2" text-anchor="end" font-weight="bold" fill="#111" stroke="#111" stroke-width="0.1" >250</text>
<text x="171.40" y="1067.17" font-size="6.2" text-anchor="end" font-weight="bold" fill="#111" stroke="#111" stroke-width="0.1" >200</text>
<text x="171.40" y="1078.63" font-size="6.2" text-anchor="end" font-weight="bold" fill="#111" stroke="#111" stroke-width="0.1" >150</text>
<text x="171.40" y="1090.10" font-size="6.2" text-anchor="end" font-weight="bold" fill="#111" stroke="#111" stroke-width="0.1" >100</text>
<text x="171.40" y="1101.57" font-size="6.2" text-anchor="end" font-weight="bold" fill="#111" stroke="#111" stroke-width="0.1" >50</text>
<text x="171.40" y="1113.03" font-size="6.2" text-anchor="end" font-weight="bold" fill="#111" stroke="#111" stroke-width="0.1" >0</text>
<line x1="190.80" y1="1094.00" x2="190.80" y2="1095.40" stroke="#666" stroke-width="1.15"/>
<line x1="189.55" y1="1094.00" x2="192.05" y2="1094.00" stroke="#666" stroke-width="1.15"/>
<rect x="184.60" y="1095.40" width="12.40" height="15.40" fill="#fff" stroke="#444" stroke-width="0.85"/>
<line x1="203.10" y1="1054.80" x2="203.10" y2="1061.00" stroke="#666" stroke-width="1.15"/>
<line x1="201.85" y1="1054.80" x2="204.35" y2="1054.80" stroke="#666" stroke-width="1.15"/>
<rect x="197.00" y="1061.00" width="12.20" height="49.80" fill="#666666" stroke="#505050" stroke-width="0.85"/>
<polygon points="204.00,1045.30 204.91,1047.74 207.52,1047.86 205.48,1049.48 206.17,1051.99 204.00,1050.55 201.83,1051.99 202.52,1049.48 200.48,1047.86 203.09,1047.74" fill="#000"/>
<rect x="236.30" y="1042.00" width="38.50" height="67.20" fill="#fff" stroke="#b4b4b4" stroke-width="1"/>
<line x1="234.30" y1="1051.60" x2="274.80" y2="1051.60" stroke="#adadad" stroke-width="1"/>
<line x1="234.30" y1="1070.80" x2="274.80" y2="1070.80" stroke="#adadad" stroke-width="1"/>
<line x1="234.30" y1="1090.00" x2="274.80" y2="1090.00" stroke="#adadad" stroke-width="1"/>
<line x1="234.30" y1="1109.20" x2="274.80" y2="1109.20" stroke="#adadad" stroke-width="1"/>
<text x="230.80" y="1053.83" font-size="6.2" text-anchor="end" font-weight="bold" fill="#111" stroke="#111" stroke-width="0.1" >3</text>
<text x="230.80" y="1073.03" font-size="6.2" text-anchor="end" font-weight="bold" fill="#111" stroke="#111" stroke-width="0.1" >2</text>
<text x="230.80" y="1092.23" font-size="6.2" text-anchor="end" font-weight="bold" fill="#111" stroke="#111" stroke-width="0.1" >1</text>
<text x="230.80" y="1111.43" font-size="6.2" text-anchor="end" font-weight="bold" fill="#111" stroke="#111" stroke-width="0.1" >0</text>
<line x1="250.00" y1="1095.80" x2="250.00" y2="1097.00" stroke="#666" stroke-width="1.15"/>
<line x1="248.75" y1="1095.80" x2="251.25" y2="1095.80" stroke="#666" stroke-width="1.15"/>
<rect x="244.60" y="1097.00" width="10.80" height="12.20" fill="#fff" stroke="#444" stroke-width="0.85"/>
<line x1="261.20" y1="1060.60" x2="261.20" y2="1068.30" stroke="#666" stroke-width="1.15"/>
<line x1="259.95" y1="1060.60" x2="262.45" y2="1060.60" stroke="#666" stroke-width="1.15"/>
<rect x="255.40" y="1068.30" width="11.60" height="40.90" fill="#666666" stroke="#505050" stroke-width="0.85"/>
<polygon points="260.60,1052.30 261.51,1054.74 264.12,1054.86 262.08,1056.48 262.77,1058.99 260.60,1057.55 258.43,1058.99 259.12,1056.48 257.08,1054.86 259.69,1054.74" fill="#000"/>
<rect x="295.40" y="1045.20" width="38.40" height="64.00" fill="#fff" stroke="#b4b4b4" stroke-width="1"/>
<line x1="293.40" y1="1045.20" x2="333.80" y2="1045.20" stroke="#adadad" stroke-width="1"/>
<line x1="293.40" y1="1061.20" x2="333.80" y2="1061.20" stroke="#adadad" stroke-width="1"/>
<line x1="293.40" y1="1077.20" x2="333.80" y2="1077.20" stroke="#adadad" stroke-width="1"/>
<line x1="293.40" y1="1093.20" x2="333.80" y2="1093.20" stroke="#adadad" stroke-width="1"/>
<line x1="293.40" y1="1109.20" x2="333.80" y2="1109.20" stroke="#adadad" stroke-width="1"/>
<text x="289.20" y="1047.43" font-size="6.2" text-anchor="end" font-weight="bold" fill="#111" stroke="#111" stroke-width="0.1" >0.4</text>
<text x="289.20" y="1063.43" font-size="6.2" text-anchor="end" font-weight="bold" fill="#111" stroke="#111" stroke-width="0.1" >0.3</text>
<text x="289.20" y="1079.43" font-size="6.2" text-anchor="end" font-weight="bold" fill="#111" stroke="#111" stroke-width="0.1" >0.2</text>
<text x="289.20" y="1095.43" font-size="6.2" text-anchor="end" font-weight="bold" fill="#111" stroke="#111" stroke-width="0.1" >0.1</text>
<text x="289.20" y="1111.43" font-size="6.2" text-anchor="end" font-weight="bold" fill="#111" stroke="#111" stroke-width="0.1" >0</text>
<line x1="310.00" y1="1100.00" x2="310.00" y2="1101.00" stroke="#666" stroke-width="1.15"/>
<line x1="308.75" y1="1100.00" x2="311.25" y2="1100.00" stroke="#666" stroke-width="1.15"/>
<rect x="304.60" y="1101.00" width="10.80" height="8.20" fill="#fff" stroke="#444" stroke-width="0.85"/>
<line x1="320.80" y1="1070.80" x2="320.80" y2="1078.50" stroke="#666" stroke-width="1.15"/>
<line x1="319.55" y1="1070.80" x2="322.05" y2="1070.80" stroke="#666" stroke-width="1.15"/>
<rect x="315.40" y="1078.50" width="10.80" height="30.70" fill="#666666" stroke="#505050" stroke-width="0.85"/>
<polygon points="320.60,1062.30 321.51,1064.74 324.12,1064.86 322.08,1066.48 322.77,1068.99 320.60,1067.55 318.43,1068.99 319.12,1066.48 317.08,1064.86 319.69,1064.74" fill="#000"/>
<rect x="175.60" y="1125.60" width="43.40" height="73.40" fill="#fff" stroke="#b4b4b4" stroke-width="1"/>
<line x1="173.60" y1="1125.60" x2="219.00" y2="1125.60" stroke="#adadad" stroke-width="1"/>
<line x1="173.60" y1="1137.83" x2="219.00" y2="1137.83" stroke="#adadad" stroke-width="1"/>
<line x1="173.60" y1="1150.07" x2="219.00" y2="1150.07" stroke="#adadad" stroke-width="1"/>
<line x1="173.60" y1="1162.30" x2="219.00" y2="1162.30" stroke="#adadad" stroke-width="1"/>
<line x1="173.60" y1="1174.53" x2="219.00" y2="1174.53" stroke="#adadad" stroke-width="1"/>
<line x1="173.60" y1="1186.77" x2="219.00" y2="1186.77" stroke="#adadad" stroke-width="1"/>
<line x1="173.60" y1="1199.00" x2="219.00" y2="1199.00" stroke="#adadad" stroke-width="1"/>
<text x="171.40" y="1127.83" font-size="6.2" text-anchor="end" font-weight="bold" fill="#111" stroke="#111" stroke-width="0.1" >300</text>
<text x="171.40" y="1140.07" font-size="6.2" text-anchor="end" font-weight="bold" fill="#111" stroke="#111" stroke-width="0.1" >250</text>
<text x="171.40" y="1152.30" font-size="6.2" text-anchor="end" font-weight="bold" fill="#111" stroke="#111" stroke-width="0.1" >200</text>
<text x="171.40" y="1164.53" font-size="6.2" text-anchor="end" font-weight="bold" fill="#111" stroke="#111" stroke-width="0.1" >150</text>
<text x="171.40" y="1176.77" font-size="6.2" text-anchor="end" font-weight="bold" fill="#111" stroke="#111" stroke-width="0.1" >100</text>
<text x="171.40" y="1189.00" font-size="6.2" text-anchor="end" font-weight="bold" fill="#111" stroke="#111" stroke-width="0.1" >50</text>
<text x="171.40" y="1201.23" font-size="6.2" text-anchor="end" font-weight="bold" fill="#111" stroke="#111" stroke-width="0.1" >0</text>
<line x1="190.45" y1="1187.00" x2="190.45" y2="1188.80" stroke="#666" stroke-width="1.15"/>
<line x1="189.20" y1="1187.00" x2="191.70" y2="1187.00" stroke="#666" stroke-width="1.15"/>
<rect x="184.60" y="1188.80" width="11.70" height="10.20" fill="#fff" stroke="#444" stroke-width="0.85"/>
<line x1="202.45" y1="1128.00" x2="202.45" y2="1143.30" stroke="#666" stroke-width="1.15"/>
<line x1="201.20" y1="1128.00" x2="203.70" y2="1128.00" stroke="#666" stroke-width="1.15"/>
<rect x="196.30" y="1143.30" width="12.30" height="55.70" fill="#666666" stroke="#505050" stroke-width="0.85"/>
<polygon points="202.50,1119.60 203.41,1122.04 206.02,1122.16 203.98,1123.78 204.67,1126.29 202.50,1124.85 200.33,1126.29 201.02,1123.78 198.98,1122.16 201.59,1122.04" fill="#000"/>
<rect x="239.40" y="1125.40" width="36.00" height="73.80" fill="#fff" stroke="#b4b4b4" stroke-width="1"/>
<line x1="237.40" y1="1135.94" x2="275.40" y2="1135.94" stroke="#adadad" stroke-width="1"/>
<line x1="237.40" y1="1157.03" x2="275.40" y2="1157.03" stroke="#adadad" stroke-width="1"/>
<line x1="237.40" y1="1178.11" x2="275.40" y2="1178.11" stroke="#adadad" stroke-width="1"/>
<line x1="237.40" y1="1199.20" x2="275.40" y2="1199.20" stroke="#adadad" stroke-width="1"/>
<text x="234.50" y="1138.17" font-size="6.2" text-anchor="end" font-weight="bold" fill="#111" stroke="#111" stroke-width="0.1" >3</text>
<text x="234.50" y="1159.26" font-size="6.2" text-anchor="end" font-weight="bold" fill="#111" stroke="#111" stroke-width="0.1" >2</text>
<text x="234.50" y="1180.35" font-size="6.2" text-anchor="end" font-weight="bold" fill="#111" stroke="#111" stroke-width="0.1" >1</text>
<text x="234.50" y="1201.43" font-size="6.2" text-anchor="end" font-weight="bold" fill="#111" stroke="#111" stroke-width="0.1" >0</text>
<line x1="252.25" y1="1190.80" x2="252.25" y2="1192.00" stroke="#666" stroke-width="1.15"/>
<line x1="251.00" y1="1190.80" x2="253.50" y2="1190.80" stroke="#666" stroke-width="1.15"/>
<rect x="247.00" y="1192.00" width="10.50" height="7.20" fill="#fff" stroke="#444" stroke-width="0.85"/>
<line x1="262.60" y1="1132.50" x2="262.60" y2="1147.30" stroke="#666" stroke-width="1.15"/>
<line x1="261.35" y1="1132.50" x2="263.85" y2="1132.50" stroke="#666" stroke-width="1.15"/>
<rect x="257.50" y="1147.30" width="10.20" height="51.90" fill="#666666" stroke="#505050" stroke-width="0.85"/>
<polygon points="261.50,1121.80 262.41,1124.24 265.02,1124.36 262.98,1125.98 263.67,1128.49 261.50,1127.05 259.33,1128.49 260.02,1125.98 257.98,1124.36 260.59,1124.24" fill="#000"/>
<rect x="297.00" y="1125.40" width="38.40" height="73.80" fill="#fff" stroke="#b4b4b4" stroke-width="1"/>
<line x1="295.00" y1="1125.40" x2="335.40" y2="1125.40" stroke="#adadad" stroke-width="1"/>
<line x1="295.00" y1="1143.85" x2="335.40" y2="1143.85" stroke="#adadad" stroke-width="1"/>
<line x1="295.00" y1="1162.30" x2="335.40" y2="1162.30" stroke="#adadad" stroke-width="1"/>
<line x1="295.00" y1="1180.75" x2="335.40" y2="1180.75" stroke="#adadad" stroke-width="1"/>
<line x1="295.00" y1="1199.20" x2="335.40" y2="1199.20" stroke="#adadad" stroke-width="1"/>
<text x="291.50" y="1127.63" font-size="6.2" text-anchor="end" font-weight="bold" fill="#111" stroke="#111" stroke-width="0.1" >0.4</text>
<text x="291.50" y="1146.08" font-size="6.2" text-anchor="end" font-weight="bold" fill="#111" stroke="#111" stroke-width="0.1" >0.3</text>
<text x="291.50" y="1164.53" font-size="6.2" text-anchor="end" font-weight="bold" fill="#111" stroke="#111" stroke-width="0.1" >0.2</text>
<text x="291.50" y="1182.98" font-size="6.2" text-anchor="end" font-weight="bold" fill="#111" stroke="#111" stroke-width="0.1" >0.1</text>
<text x="291.50" y="1201.43" font-size="6.2" text-anchor="end" font-weight="bold" fill="#111" stroke="#111" stroke-width="0.1" >0</text>
<line x1="310.90" y1="1184.20" x2="310.90" y2="1187.30" stroke="#666" stroke-width="1.15"/>
<line x1="309.65" y1="1184.20" x2="312.15" y2="1184.20" stroke="#666" stroke-width="1.15"/>
<rect x="305.50" y="1187.30" width="10.80" height="11.90" fill="#fff" stroke="#444" stroke-width="0.85"/>
<line x1="321.65" y1="1128.80" x2="321.65" y2="1142.00" stroke="#666" stroke-width="1.15"/>
<line x1="320.40" y1="1128.80" x2="322.90" y2="1128.80" stroke="#666" stroke-width="1.15"/>
<rect x="316.30" y="1142.00" width="10.70" height="57.20" fill="#666666" stroke="#505050" stroke-width="0.85"/>
<polygon points="322.00,1120.30 322.91,1122.74 325.52,1122.86 323.48,1124.48 324.17,1126.99 322.00,1125.55 319.83,1126.99 320.52,1124.48 318.48,1122.86 321.09,1122.74" fill="#000"/>
</svg>
</body></html>
